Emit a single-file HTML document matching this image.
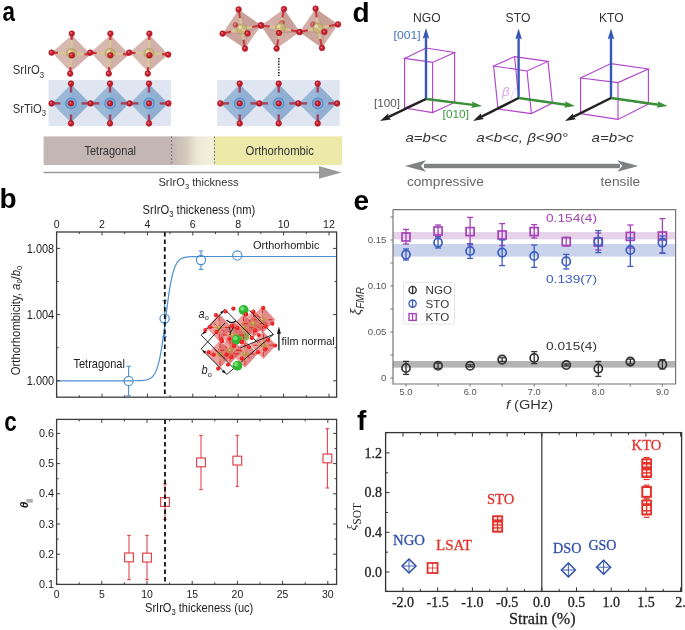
<!DOCTYPE html><html><head><meta charset="utf-8"><style>html,body{margin:0;padding:0;background:#fff;}svg{display:block;filter:blur(0.4px);}</style></head><body>
<svg width="685" height="630" viewBox="0 0 685 630">
<rect width="685" height="630" fill="#fff"/>
<text transform="translate(2.4,21) scale(0.8,1)" font-size="28" fill="#000" text-anchor="start" font-weight="bold" font-style="normal" font-family='"Liberation Sans", sans-serif'>a</text>
<polygon points="71.80000000000001,35 90.60000000000001,54.4 70.5,72 52.00000000000001,52.6" fill="#d7b9b2"/>
<polygon points="71.80000000000001,35 90.60000000000001,54.4 70.5,72" fill="#cfaca5" opacity="0.6"/>
<line x1="71.40" y1="53.40" x2="71.67" y2="39.94" stroke="#d8c890" stroke-width="2.2" />
<line x1="71.67" y1="39.94" x2="71.80" y2="33.60" stroke="#cc3440" stroke-width="2.2" />
<line x1="71.40" y1="53.40" x2="70.58" y2="67.14" stroke="#d8c890" stroke-width="2.2" />
<line x1="70.58" y1="67.14" x2="70.20" y2="73.60" stroke="#cc3440" stroke-width="2.2" />
<line x1="71.40" y1="53.40" x2="57.94" y2="52.86" stroke="#d8c890" stroke-width="2.2" />
<line x1="57.94" y1="52.86" x2="51.60" y2="52.60" stroke="#cc3440" stroke-width="2.2" />
<line x1="71.40" y1="53.40" x2="84.39" y2="54.22" stroke="#d8c890" stroke-width="2.2" />
<line x1="84.39" y1="54.22" x2="90.50" y2="54.60" stroke="#cc3440" stroke-width="2.2" />
<circle cx="71.4" cy="53.4" r="5.0" fill="#c8b478" stroke="#a89458" stroke-width="0.6"/>
<circle cx="69.9" cy="51.8" r="1.8" fill="#ece2b8" opacity="0.8"/>
<polygon points="110.4,35 129.2,54.4 109.1,72 90.6,52.6" fill="#d7b9b2"/>
<polygon points="110.4,35 129.2,54.4 109.1,72" fill="#cfaca5" opacity="0.6"/>
<line x1="110.00" y1="53.40" x2="110.27" y2="39.94" stroke="#d8c890" stroke-width="2.2" />
<line x1="110.27" y1="39.94" x2="110.40" y2="33.60" stroke="#cc3440" stroke-width="2.2" />
<line x1="110.00" y1="53.40" x2="109.18" y2="67.14" stroke="#d8c890" stroke-width="2.2" />
<line x1="109.18" y1="67.14" x2="108.80" y2="73.60" stroke="#cc3440" stroke-width="2.2" />
<line x1="110.00" y1="53.40" x2="96.54" y2="52.99" stroke="#d8c890" stroke-width="2.2" />
<line x1="96.54" y1="52.99" x2="90.20" y2="52.80" stroke="#cc3440" stroke-width="2.2" />
<line x1="110.00" y1="53.40" x2="122.99" y2="54.22" stroke="#d8c890" stroke-width="2.2" />
<line x1="122.99" y1="54.22" x2="129.10" y2="54.60" stroke="#cc3440" stroke-width="2.2" />
<circle cx="110" cy="53.4" r="5.0" fill="#c8b478" stroke="#a89458" stroke-width="0.6"/>
<circle cx="108.5" cy="51.8" r="1.8" fill="#ece2b8" opacity="0.8"/>
<polygon points="149.4,35 168.2,54.4 148.1,72 129.6,52.6" fill="#d7b9b2"/>
<polygon points="149.4,35 168.2,54.4 148.1,72" fill="#cfaca5" opacity="0.6"/>
<line x1="149.00" y1="53.40" x2="149.27" y2="39.94" stroke="#d8c890" stroke-width="2.2" />
<line x1="149.27" y1="39.94" x2="149.40" y2="33.60" stroke="#cc3440" stroke-width="2.2" />
<line x1="149.00" y1="53.40" x2="148.18" y2="67.14" stroke="#d8c890" stroke-width="2.2" />
<line x1="148.18" y1="67.14" x2="147.80" y2="73.60" stroke="#cc3440" stroke-width="2.2" />
<line x1="149.00" y1="53.40" x2="135.54" y2="52.99" stroke="#d8c890" stroke-width="2.2" />
<line x1="135.54" y1="52.99" x2="129.20" y2="52.80" stroke="#cc3440" stroke-width="2.2" />
<line x1="149.00" y1="53.40" x2="161.99" y2="54.22" stroke="#d8c890" stroke-width="2.2" />
<line x1="161.99" y1="54.22" x2="168.10" y2="54.60" stroke="#cc3440" stroke-width="2.2" />
<circle cx="149" cy="53.4" r="5.0" fill="#c8b478" stroke="#a89458" stroke-width="0.6"/>
<circle cx="147.5" cy="51.8" r="1.8" fill="#ece2b8" opacity="0.8"/>
<circle cx="71.8" cy="33.6" r="2.8" fill="#c81e2c" stroke="#9e1420" stroke-width="0.6"/>
<circle cx="71.2" cy="33.0" r="0.98" fill="#e88a90" opacity="0.8"/>
<circle cx="70.2" cy="73.6" r="2.8" fill="#c81e2c" stroke="#9e1420" stroke-width="0.6"/>
<circle cx="69.6" cy="73.0" r="0.98" fill="#e88a90" opacity="0.8"/>
<circle cx="51.6" cy="52.6" r="2.8" fill="#c81e2c" stroke="#9e1420" stroke-width="0.6"/>
<circle cx="51.0" cy="52.0" r="0.98" fill="#e88a90" opacity="0.8"/>
<circle cx="71.8" cy="55.2" r="2.8" fill="#c81e2c" stroke="#9e1420" stroke-width="0.6"/>
<circle cx="71.2" cy="54.6" r="0.98" fill="#e88a90" opacity="0.8"/>
<circle cx="110.4" cy="33.6" r="2.8" fill="#c81e2c" stroke="#9e1420" stroke-width="0.6"/>
<circle cx="109.8" cy="33.0" r="0.98" fill="#e88a90" opacity="0.8"/>
<circle cx="108.8" cy="73.6" r="2.8" fill="#c81e2c" stroke="#9e1420" stroke-width="0.6"/>
<circle cx="108.2" cy="73.0" r="0.98" fill="#e88a90" opacity="0.8"/>
<circle cx="90.2" cy="52.6" r="2.8" fill="#c81e2c" stroke="#9e1420" stroke-width="0.6"/>
<circle cx="89.6" cy="52.0" r="0.98" fill="#e88a90" opacity="0.8"/>
<circle cx="110.4" cy="55.2" r="2.8" fill="#c81e2c" stroke="#9e1420" stroke-width="0.6"/>
<circle cx="109.8" cy="54.6" r="0.98" fill="#e88a90" opacity="0.8"/>
<circle cx="149.4" cy="33.6" r="2.8" fill="#c81e2c" stroke="#9e1420" stroke-width="0.6"/>
<circle cx="148.8" cy="33.0" r="0.98" fill="#e88a90" opacity="0.8"/>
<circle cx="147.8" cy="73.6" r="2.8" fill="#c81e2c" stroke="#9e1420" stroke-width="0.6"/>
<circle cx="147.2" cy="73.0" r="0.98" fill="#e88a90" opacity="0.8"/>
<circle cx="129.2" cy="52.6" r="2.8" fill="#c81e2c" stroke="#9e1420" stroke-width="0.6"/>
<circle cx="128.6" cy="52.0" r="0.98" fill="#e88a90" opacity="0.8"/>
<circle cx="149.4" cy="55.2" r="2.8" fill="#c81e2c" stroke="#9e1420" stroke-width="0.6"/>
<circle cx="148.8" cy="54.6" r="0.98" fill="#e88a90" opacity="0.8"/>
<circle cx="168.2" cy="54.6" r="2.8" fill="#c81e2c" stroke="#9e1420" stroke-width="0.6"/>
<circle cx="167.6" cy="54.0" r="0.98" fill="#e88a90" opacity="0.8"/>
<rect x="48.5" y="80" width="122.5" height="46" fill="#e0e6f1"/>
<polygon points="71,84.3 90,103.4 71,122.4 52,103.4" fill="#9cb8d7" />
<polygon points="71,84.3 90,103.4 71,122.4" fill="#90afd2" />
<line x1="71.00" y1="103.40" x2="71.00" y2="92.51" stroke="#8cb6da" stroke-width="2.4" />
<line x1="71.00" y1="92.51" x2="71.00" y2="83.60" stroke="#a8405c" stroke-width="2.4" />
<line x1="71.00" y1="103.40" x2="71.00" y2="114.40" stroke="#8cb6da" stroke-width="2.4" />
<line x1="71.00" y1="114.40" x2="71.00" y2="123.40" stroke="#a8405c" stroke-width="2.4" />
<line x1="71.00" y1="103.40" x2="60.33" y2="103.40" stroke="#8cb6da" stroke-width="2.4" />
<line x1="60.33" y1="103.40" x2="51.60" y2="103.40" stroke="#a8405c" stroke-width="2.4" />
<line x1="71.00" y1="103.40" x2="81.67" y2="103.40" stroke="#8cb6da" stroke-width="2.4" />
<line x1="81.67" y1="103.40" x2="90.40" y2="103.40" stroke="#a8405c" stroke-width="2.4" />
<circle cx="71" cy="103.4" r="5.2" fill="#80b0df" stroke="#5b8cc2" stroke-width="1.2"/>
<polygon points="110,84.3 129,103.4 110,122.4 91,103.4" fill="#9cb8d7" />
<polygon points="110,84.3 129,103.4 110,122.4" fill="#90afd2" />
<line x1="110.00" y1="103.40" x2="110.00" y2="92.51" stroke="#8cb6da" stroke-width="2.4" />
<line x1="110.00" y1="92.51" x2="110.00" y2="83.60" stroke="#a8405c" stroke-width="2.4" />
<line x1="110.00" y1="103.40" x2="110.00" y2="114.40" stroke="#8cb6da" stroke-width="2.4" />
<line x1="110.00" y1="114.40" x2="110.00" y2="123.40" stroke="#a8405c" stroke-width="2.4" />
<line x1="110.00" y1="103.40" x2="99.33" y2="103.40" stroke="#8cb6da" stroke-width="2.4" />
<line x1="99.33" y1="103.40" x2="90.60" y2="103.40" stroke="#a8405c" stroke-width="2.4" />
<line x1="110.00" y1="103.40" x2="120.67" y2="103.40" stroke="#8cb6da" stroke-width="2.4" />
<line x1="120.67" y1="103.40" x2="129.40" y2="103.40" stroke="#a8405c" stroke-width="2.4" />
<circle cx="110" cy="103.4" r="5.2" fill="#80b0df" stroke="#5b8cc2" stroke-width="1.2"/>
<polygon points="149,84.3 168,103.4 149,122.4 130,103.4" fill="#9cb8d7" />
<polygon points="149,84.3 168,103.4 149,122.4" fill="#90afd2" />
<line x1="149.00" y1="103.40" x2="149.00" y2="92.51" stroke="#8cb6da" stroke-width="2.4" />
<line x1="149.00" y1="92.51" x2="149.00" y2="83.60" stroke="#a8405c" stroke-width="2.4" />
<line x1="149.00" y1="103.40" x2="149.00" y2="114.40" stroke="#8cb6da" stroke-width="2.4" />
<line x1="149.00" y1="114.40" x2="149.00" y2="123.40" stroke="#a8405c" stroke-width="2.4" />
<line x1="149.00" y1="103.40" x2="138.33" y2="103.40" stroke="#8cb6da" stroke-width="2.4" />
<line x1="138.33" y1="103.40" x2="129.60" y2="103.40" stroke="#a8405c" stroke-width="2.4" />
<line x1="149.00" y1="103.40" x2="159.67" y2="103.40" stroke="#8cb6da" stroke-width="2.4" />
<line x1="159.67" y1="103.40" x2="168.40" y2="103.40" stroke="#a8405c" stroke-width="2.4" />
<circle cx="149" cy="103.4" r="5.2" fill="#80b0df" stroke="#5b8cc2" stroke-width="1.2"/>
<circle cx="71.0" cy="83.6" r="2.8" fill="#c81e2c" stroke="#9e1420" stroke-width="0.6"/>
<circle cx="70.4" cy="83.0" r="0.98" fill="#e88a90" opacity="0.8"/>
<circle cx="71.0" cy="123.4" r="2.8" fill="#c81e2c" stroke="#9e1420" stroke-width="0.6"/>
<circle cx="70.4" cy="122.8" r="0.98" fill="#e88a90" opacity="0.8"/>
<circle cx="51.6" cy="103.4" r="2.8" fill="#c81e2c" stroke="#9e1420" stroke-width="0.6"/>
<circle cx="51.0" cy="102.8" r="0.98" fill="#e88a90" opacity="0.8"/>
<circle cx="71.0" cy="103.4" r="2.8" fill="#c81e2c" stroke="#9e1420" stroke-width="0.6"/>
<circle cx="70.4" cy="102.8" r="0.98" fill="#e88a90" opacity="0.8"/>
<circle cx="110.0" cy="83.6" r="2.8" fill="#c81e2c" stroke="#9e1420" stroke-width="0.6"/>
<circle cx="109.4" cy="83.0" r="0.98" fill="#e88a90" opacity="0.8"/>
<circle cx="110.0" cy="123.4" r="2.8" fill="#c81e2c" stroke="#9e1420" stroke-width="0.6"/>
<circle cx="109.4" cy="122.8" r="0.98" fill="#e88a90" opacity="0.8"/>
<circle cx="90.6" cy="103.4" r="2.8" fill="#c81e2c" stroke="#9e1420" stroke-width="0.6"/>
<circle cx="90.0" cy="102.8" r="0.98" fill="#e88a90" opacity="0.8"/>
<circle cx="110.0" cy="103.4" r="2.8" fill="#c81e2c" stroke="#9e1420" stroke-width="0.6"/>
<circle cx="109.4" cy="102.8" r="0.98" fill="#e88a90" opacity="0.8"/>
<circle cx="149.0" cy="83.6" r="2.8" fill="#c81e2c" stroke="#9e1420" stroke-width="0.6"/>
<circle cx="148.4" cy="83.0" r="0.98" fill="#e88a90" opacity="0.8"/>
<circle cx="149.0" cy="123.4" r="2.8" fill="#c81e2c" stroke="#9e1420" stroke-width="0.6"/>
<circle cx="148.4" cy="122.8" r="0.98" fill="#e88a90" opacity="0.8"/>
<circle cx="129.6" cy="103.4" r="2.8" fill="#c81e2c" stroke="#9e1420" stroke-width="0.6"/>
<circle cx="129.0" cy="102.8" r="0.98" fill="#e88a90" opacity="0.8"/>
<circle cx="149.0" cy="103.4" r="2.8" fill="#c81e2c" stroke="#9e1420" stroke-width="0.6"/>
<circle cx="148.4" cy="102.8" r="0.98" fill="#e88a90" opacity="0.8"/>
<circle cx="168.4" cy="103.4" r="2.8" fill="#c81e2c" stroke="#9e1420" stroke-width="0.6"/>
<circle cx="167.8" cy="102.8" r="0.98" fill="#e88a90" opacity="0.8"/>
<rect x="217.2" y="80" width="122.5" height="46" fill="#e0e6f1"/>
<polygon points="239.7,84.3 258.7,103.4 239.7,122.4 220.7,103.4" fill="#9cb8d7" />
<polygon points="239.7,84.3 258.7,103.4 239.7,122.4" fill="#90afd2" />
<line x1="239.70" y1="103.40" x2="239.70" y2="92.51" stroke="#8cb6da" stroke-width="2.4" />
<line x1="239.70" y1="92.51" x2="239.70" y2="83.60" stroke="#a8405c" stroke-width="2.4" />
<line x1="239.70" y1="103.40" x2="239.70" y2="114.40" stroke="#8cb6da" stroke-width="2.4" />
<line x1="239.70" y1="114.40" x2="239.70" y2="123.40" stroke="#a8405c" stroke-width="2.4" />
<line x1="239.70" y1="103.40" x2="229.03" y2="103.40" stroke="#8cb6da" stroke-width="2.4" />
<line x1="229.03" y1="103.40" x2="220.30" y2="103.40" stroke="#a8405c" stroke-width="2.4" />
<line x1="239.70" y1="103.40" x2="250.37" y2="103.40" stroke="#8cb6da" stroke-width="2.4" />
<line x1="250.37" y1="103.40" x2="259.10" y2="103.40" stroke="#a8405c" stroke-width="2.4" />
<circle cx="239.7" cy="103.4" r="5.2" fill="#80b0df" stroke="#5b8cc2" stroke-width="1.2"/>
<polygon points="278.7,84.3 297.7,103.4 278.7,122.4 259.7,103.4" fill="#9cb8d7" />
<polygon points="278.7,84.3 297.7,103.4 278.7,122.4" fill="#90afd2" />
<line x1="278.70" y1="103.40" x2="278.70" y2="92.51" stroke="#8cb6da" stroke-width="2.4" />
<line x1="278.70" y1="92.51" x2="278.70" y2="83.60" stroke="#a8405c" stroke-width="2.4" />
<line x1="278.70" y1="103.40" x2="278.70" y2="114.40" stroke="#8cb6da" stroke-width="2.4" />
<line x1="278.70" y1="114.40" x2="278.70" y2="123.40" stroke="#a8405c" stroke-width="2.4" />
<line x1="278.70" y1="103.40" x2="268.03" y2="103.40" stroke="#8cb6da" stroke-width="2.4" />
<line x1="268.03" y1="103.40" x2="259.30" y2="103.40" stroke="#a8405c" stroke-width="2.4" />
<line x1="278.70" y1="103.40" x2="289.37" y2="103.40" stroke="#8cb6da" stroke-width="2.4" />
<line x1="289.37" y1="103.40" x2="298.10" y2="103.40" stroke="#a8405c" stroke-width="2.4" />
<circle cx="278.7" cy="103.4" r="5.2" fill="#80b0df" stroke="#5b8cc2" stroke-width="1.2"/>
<polygon points="317.7,84.3 336.7,103.4 317.7,122.4 298.7,103.4" fill="#9cb8d7" />
<polygon points="317.7,84.3 336.7,103.4 317.7,122.4" fill="#90afd2" />
<line x1="317.70" y1="103.40" x2="317.70" y2="92.51" stroke="#8cb6da" stroke-width="2.4" />
<line x1="317.70" y1="92.51" x2="317.70" y2="83.60" stroke="#a8405c" stroke-width="2.4" />
<line x1="317.70" y1="103.40" x2="317.70" y2="114.40" stroke="#8cb6da" stroke-width="2.4" />
<line x1="317.70" y1="114.40" x2="317.70" y2="123.40" stroke="#a8405c" stroke-width="2.4" />
<line x1="317.70" y1="103.40" x2="307.03" y2="103.40" stroke="#8cb6da" stroke-width="2.4" />
<line x1="307.03" y1="103.40" x2="298.30" y2="103.40" stroke="#a8405c" stroke-width="2.4" />
<line x1="317.70" y1="103.40" x2="328.37" y2="103.40" stroke="#8cb6da" stroke-width="2.4" />
<line x1="328.37" y1="103.40" x2="337.10" y2="103.40" stroke="#a8405c" stroke-width="2.4" />
<circle cx="317.7" cy="103.4" r="5.2" fill="#80b0df" stroke="#5b8cc2" stroke-width="1.2"/>
<circle cx="239.7" cy="83.6" r="2.8" fill="#c81e2c" stroke="#9e1420" stroke-width="0.6"/>
<circle cx="239.1" cy="83.0" r="0.98" fill="#e88a90" opacity="0.8"/>
<circle cx="239.7" cy="123.4" r="2.8" fill="#c81e2c" stroke="#9e1420" stroke-width="0.6"/>
<circle cx="239.1" cy="122.8" r="0.98" fill="#e88a90" opacity="0.8"/>
<circle cx="220.3" cy="103.4" r="2.8" fill="#c81e2c" stroke="#9e1420" stroke-width="0.6"/>
<circle cx="219.7" cy="102.8" r="0.98" fill="#e88a90" opacity="0.8"/>
<circle cx="239.7" cy="103.4" r="2.8" fill="#c81e2c" stroke="#9e1420" stroke-width="0.6"/>
<circle cx="239.1" cy="102.8" r="0.98" fill="#e88a90" opacity="0.8"/>
<circle cx="278.7" cy="83.6" r="2.8" fill="#c81e2c" stroke="#9e1420" stroke-width="0.6"/>
<circle cx="278.1" cy="83.0" r="0.98" fill="#e88a90" opacity="0.8"/>
<circle cx="278.7" cy="123.4" r="2.8" fill="#c81e2c" stroke="#9e1420" stroke-width="0.6"/>
<circle cx="278.1" cy="122.8" r="0.98" fill="#e88a90" opacity="0.8"/>
<circle cx="259.3" cy="103.4" r="2.8" fill="#c81e2c" stroke="#9e1420" stroke-width="0.6"/>
<circle cx="258.7" cy="102.8" r="0.98" fill="#e88a90" opacity="0.8"/>
<circle cx="278.7" cy="103.4" r="2.8" fill="#c81e2c" stroke="#9e1420" stroke-width="0.6"/>
<circle cx="278.1" cy="102.8" r="0.98" fill="#e88a90" opacity="0.8"/>
<circle cx="317.7" cy="83.6" r="2.8" fill="#c81e2c" stroke="#9e1420" stroke-width="0.6"/>
<circle cx="317.1" cy="83.0" r="0.98" fill="#e88a90" opacity="0.8"/>
<circle cx="317.7" cy="123.4" r="2.8" fill="#c81e2c" stroke="#9e1420" stroke-width="0.6"/>
<circle cx="317.1" cy="122.8" r="0.98" fill="#e88a90" opacity="0.8"/>
<circle cx="298.3" cy="103.4" r="2.8" fill="#c81e2c" stroke="#9e1420" stroke-width="0.6"/>
<circle cx="297.7" cy="102.8" r="0.98" fill="#e88a90" opacity="0.8"/>
<circle cx="317.7" cy="103.4" r="2.8" fill="#c81e2c" stroke="#9e1420" stroke-width="0.6"/>
<circle cx="317.1" cy="102.8" r="0.98" fill="#e88a90" opacity="0.8"/>
<circle cx="337.1" cy="103.4" r="2.8" fill="#c81e2c" stroke="#9e1420" stroke-width="0.6"/>
<circle cx="336.5" cy="102.8" r="0.98" fill="#e88a90" opacity="0.8"/>
<polygon points="238.6,9.4 261.0,25.4 245.0,48.6 222.6,33.6" fill="#d2aea6"/>
<polygon points="238.6,9.4 261.0,25.4 247.6,33.4" fill="#c59d95" opacity="0.8"/>
<polygon points="245.0,48.6 222.6,33.6 247.6,33.4" fill="#c8a29a" opacity="0.8"/>
<polyline points="238.6,9.4 247.6,33.4 245.0,48.6" fill="none" stroke="#b88e86" stroke-width="0.6"/>
<polyline points="222.6,33.6 247.6,33.4 261.0,25.4" fill="none" stroke="#b88e86" stroke-width="0.6"/>
<line x1="241.60" y1="29.00" x2="239.95" y2="18.22" stroke="#d8c890" stroke-width="2.0" />
<line x1="239.95" y1="18.22" x2="238.60" y2="9.40" stroke="#cc3440" stroke-width="2.0" />
<line x1="241.60" y1="29.00" x2="243.47" y2="39.78" stroke="#d8c890" stroke-width="2.0" />
<line x1="243.47" y1="39.78" x2="245.00" y2="48.60" stroke="#cc3440" stroke-width="2.0" />
<line x1="241.60" y1="29.00" x2="231.15" y2="31.53" stroke="#d8c890" stroke-width="2.0" />
<line x1="231.15" y1="31.53" x2="222.60" y2="33.60" stroke="#cc3440" stroke-width="2.0" />
<line x1="241.60" y1="29.00" x2="252.27" y2="27.02" stroke="#d8c890" stroke-width="2.0" />
<line x1="252.27" y1="27.02" x2="261.00" y2="25.40" stroke="#cc3440" stroke-width="2.0" />
<line x1="241.60" y1="29.00" x2="238.30" y2="26.80" stroke="#d8c890" stroke-width="2.0" />
<line x1="238.30" y1="26.80" x2="235.60" y2="25.00" stroke="#cc3440" stroke-width="2.0" />
<g opacity="0.55">
<circle cx="235.6" cy="25.0" r="2.6" fill="#c81e2c" stroke="#9e1420" stroke-width="0.6"/>
<circle cx="235.0" cy="24.4" r="0.91" fill="#e88a90" opacity="0.8"/>
</g>
<circle cx="241.6" cy="29" r="5.0" fill="#c8b478" stroke="#a89458" stroke-width="0.6"/>
<circle cx="240.1" cy="27.4" r="1.8" fill="#ece2b8" opacity="0.8"/>
<line x1="241.60" y1="29.00" x2="244.90" y2="31.42" stroke="#d8c890" stroke-width="2.0" />
<line x1="244.90" y1="31.42" x2="247.60" y2="33.40" stroke="#cc3440" stroke-width="2.0" />
<polygon points="284.0,9.0 299.6,32.0 276.6,48.6 261.0,25.4" fill="#d2aea6"/>
<polygon points="284.0,9.0 299.6,32.0 279.0,33.0" fill="#c59d95" opacity="0.8"/>
<polygon points="276.6,48.6 261.0,25.4 279.0,33.0" fill="#c8a29a" opacity="0.8"/>
<polyline points="284.0,9.0 279.0,33.0 276.6,48.6" fill="none" stroke="#b88e86" stroke-width="0.6"/>
<polyline points="261.0,25.4 279.0,33.0 299.6,32.0" fill="none" stroke="#b88e86" stroke-width="0.6"/>
<line x1="280.40" y1="28.00" x2="282.38" y2="17.55" stroke="#d8c890" stroke-width="2.0" />
<line x1="282.38" y1="17.55" x2="284.00" y2="9.00" stroke="#cc3440" stroke-width="2.0" />
<line x1="280.40" y1="28.00" x2="278.31" y2="39.33" stroke="#d8c890" stroke-width="2.0" />
<line x1="278.31" y1="39.33" x2="276.60" y2="48.60" stroke="#cc3440" stroke-width="2.0" />
<line x1="280.40" y1="28.00" x2="269.73" y2="26.57" stroke="#d8c890" stroke-width="2.0" />
<line x1="269.73" y1="26.57" x2="261.00" y2="25.40" stroke="#cc3440" stroke-width="2.0" />
<line x1="280.40" y1="28.00" x2="290.96" y2="30.20" stroke="#d8c890" stroke-width="2.0" />
<line x1="290.96" y1="30.20" x2="299.60" y2="32.00" stroke="#cc3440" stroke-width="2.0" />
<line x1="280.40" y1="28.00" x2="281.28" y2="25.25" stroke="#d8c890" stroke-width="2.0" />
<line x1="281.28" y1="25.25" x2="282.00" y2="23.00" stroke="#cc3440" stroke-width="2.0" />
<g opacity="0.55">
<circle cx="282.0" cy="23.0" r="2.6" fill="#c81e2c" stroke="#9e1420" stroke-width="0.6"/>
<circle cx="281.4" cy="22.4" r="0.91" fill="#e88a90" opacity="0.8"/>
</g>
<circle cx="280.4" cy="28" r="5.0" fill="#c8b478" stroke="#a89458" stroke-width="0.6"/>
<circle cx="278.9" cy="26.4" r="1.8" fill="#ece2b8" opacity="0.8"/>
<line x1="280.40" y1="28.00" x2="279.63" y2="30.75" stroke="#d8c890" stroke-width="2.0" />
<line x1="279.63" y1="30.75" x2="279.00" y2="33.00" stroke="#cc3440" stroke-width="2.0" />
<polygon points="315.6,8.6 338.0,24.4 322.0,48.0 299.6,32.0" fill="#d2aea6"/>
<polygon points="315.6,8.6 338.0,24.4 324.4,32.0" fill="#c59d95" opacity="0.8"/>
<polygon points="322.0,48.0 299.6,32.0 324.4,32.0" fill="#c8a29a" opacity="0.8"/>
<polyline points="315.6,8.6 324.4,32.0 322.0,48.0" fill="none" stroke="#b88e86" stroke-width="0.6"/>
<polyline points="299.6,32.0 324.4,32.0 338.0,24.4" fill="none" stroke="#b88e86" stroke-width="0.6"/>
<line x1="318.00" y1="28.00" x2="316.68" y2="17.33" stroke="#d8c890" stroke-width="2.0" />
<line x1="316.68" y1="17.33" x2="315.60" y2="8.60" stroke="#cc3440" stroke-width="2.0" />
<line x1="318.00" y1="28.00" x2="320.20" y2="39.00" stroke="#d8c890" stroke-width="2.0" />
<line x1="320.20" y1="39.00" x2="322.00" y2="48.00" stroke="#cc3440" stroke-width="2.0" />
<line x1="318.00" y1="28.00" x2="307.88" y2="30.20" stroke="#d8c890" stroke-width="2.0" />
<line x1="307.88" y1="30.20" x2="299.60" y2="32.00" stroke="#cc3440" stroke-width="2.0" />
<line x1="318.00" y1="28.00" x2="329.00" y2="26.02" stroke="#d8c890" stroke-width="2.0" />
<line x1="329.00" y1="26.02" x2="338.00" y2="24.40" stroke="#cc3440" stroke-width="2.0" />
<line x1="318.00" y1="28.00" x2="315.25" y2="26.02" stroke="#d8c890" stroke-width="2.0" />
<line x1="315.25" y1="26.02" x2="313.00" y2="24.40" stroke="#cc3440" stroke-width="2.0" />
<g opacity="0.55">
<circle cx="313.0" cy="24.4" r="2.6" fill="#c81e2c" stroke="#9e1420" stroke-width="0.6"/>
<circle cx="312.4" cy="23.8" r="0.91" fill="#e88a90" opacity="0.8"/>
</g>
<circle cx="318" cy="28" r="5.0" fill="#c8b478" stroke="#a89458" stroke-width="0.6"/>
<circle cx="316.5" cy="26.4" r="1.8" fill="#ece2b8" opacity="0.8"/>
<line x1="318.00" y1="28.00" x2="321.52" y2="30.20" stroke="#d8c890" stroke-width="2.0" />
<line x1="321.52" y1="30.20" x2="324.40" y2="32.00" stroke="#cc3440" stroke-width="2.0" />
<circle cx="238.6" cy="9.4" r="2.8" fill="#c81e2c" stroke="#9e1420" stroke-width="0.6"/>
<circle cx="238.0" cy="8.8" r="0.98" fill="#e88a90" opacity="0.8"/>
<circle cx="245.0" cy="48.6" r="2.8" fill="#c81e2c" stroke="#9e1420" stroke-width="0.6"/>
<circle cx="244.4" cy="48.0" r="0.98" fill="#e88a90" opacity="0.8"/>
<circle cx="222.6" cy="33.6" r="2.8" fill="#c81e2c" stroke="#9e1420" stroke-width="0.6"/>
<circle cx="222.0" cy="33.0" r="0.98" fill="#e88a90" opacity="0.8"/>
<circle cx="261.0" cy="25.4" r="2.8" fill="#c81e2c" stroke="#9e1420" stroke-width="0.6"/>
<circle cx="260.4" cy="24.8" r="0.98" fill="#e88a90" opacity="0.8"/>
<circle cx="247.6" cy="33.4" r="2.8" fill="#c81e2c" stroke="#9e1420" stroke-width="0.6"/>
<circle cx="247.0" cy="32.8" r="0.98" fill="#e88a90" opacity="0.8"/>
<circle cx="284.0" cy="9.0" r="2.8" fill="#c81e2c" stroke="#9e1420" stroke-width="0.6"/>
<circle cx="283.4" cy="8.4" r="0.98" fill="#e88a90" opacity="0.8"/>
<circle cx="276.6" cy="48.6" r="2.8" fill="#c81e2c" stroke="#9e1420" stroke-width="0.6"/>
<circle cx="276.0" cy="48.0" r="0.98" fill="#e88a90" opacity="0.8"/>
<circle cx="261.0" cy="25.4" r="2.8" fill="#c81e2c" stroke="#9e1420" stroke-width="0.6"/>
<circle cx="260.4" cy="24.8" r="0.98" fill="#e88a90" opacity="0.8"/>
<circle cx="299.6" cy="32.0" r="2.8" fill="#c81e2c" stroke="#9e1420" stroke-width="0.6"/>
<circle cx="299.0" cy="31.4" r="0.98" fill="#e88a90" opacity="0.8"/>
<circle cx="279.0" cy="33.0" r="2.8" fill="#c81e2c" stroke="#9e1420" stroke-width="0.6"/>
<circle cx="278.4" cy="32.4" r="0.98" fill="#e88a90" opacity="0.8"/>
<circle cx="315.6" cy="8.6" r="2.8" fill="#c81e2c" stroke="#9e1420" stroke-width="0.6"/>
<circle cx="315.0" cy="8.0" r="0.98" fill="#e88a90" opacity="0.8"/>
<circle cx="322.0" cy="48.0" r="2.8" fill="#c81e2c" stroke="#9e1420" stroke-width="0.6"/>
<circle cx="321.4" cy="47.4" r="0.98" fill="#e88a90" opacity="0.8"/>
<circle cx="299.6" cy="32.0" r="2.8" fill="#c81e2c" stroke="#9e1420" stroke-width="0.6"/>
<circle cx="299.0" cy="31.4" r="0.98" fill="#e88a90" opacity="0.8"/>
<circle cx="338.0" cy="24.4" r="2.8" fill="#c81e2c" stroke="#9e1420" stroke-width="0.6"/>
<circle cx="337.4" cy="23.8" r="0.98" fill="#e88a90" opacity="0.8"/>
<circle cx="324.4" cy="32.0" r="2.8" fill="#c81e2c" stroke="#9e1420" stroke-width="0.6"/>
<circle cx="323.8" cy="31.4" r="0.98" fill="#e88a90" opacity="0.8"/>
<line x1="278.80" y1="58.00" x2="278.80" y2="76.00" stroke="#222" stroke-width="1.6" stroke-dasharray="1.4 1.4"/>
<text transform="translate(12.8,73.9) scale(0.91,1)" font-size="12.4" fill="#333" text-anchor="start" font-weight="normal" font-style="normal" font-family='"Liberation Sans", sans-serif'>SrIrO<tspan font-size="8.5" dy="3.6">3</tspan></text>
<text transform="translate(12.8,112.7) scale(0.91,1)" font-size="12.4" fill="#333" text-anchor="start" font-weight="normal" font-style="normal" font-family='"Liberation Sans", sans-serif'>SrTiO<tspan font-size="8.5" dy="3.6">3</tspan></text>
<defs><linearGradient id="gbar" x1="171.6" x2="214.4" y1="0" y2="0" gradientUnits="userSpaceOnUse"><stop offset="0" stop-color="#c4b6b3"/><stop offset="0.35" stop-color="#d6cbbd"/><stop offset="0.6" stop-color="#ece8d6"/><stop offset="1" stop-color="#f4f2dc"/></linearGradient></defs>
<rect x="43.6" y="136.4" width="128" height="28.6" fill="#c4b6b3"/>
<rect x="171.6" y="136.4" width="42.8" height="28.6" fill="url(#gbar)"/>
<rect x="214.4" y="136.4" width="127.6" height="28.6" fill="#ede9a9"/>
<line x1="171.60" y1="136.40" x2="171.60" y2="165.00" stroke="#555" stroke-width="0.8" stroke-dasharray="2 1.6"/>
<line x1="214.40" y1="136.40" x2="214.40" y2="165.00" stroke="#555" stroke-width="0.8" stroke-dasharray="2 1.6"/>
<text x="84.4" y="155" font-size="12.6" fill="#333" text-anchor="start" font-weight="normal" font-style="normal" font-family='"Liberation Sans", sans-serif' textLength="51.6" lengthAdjust="spacingAndGlyphs" >Tetragonal</text>
<text x="245.6" y="155" font-size="12.6" fill="#333" text-anchor="start" font-weight="normal" font-style="normal" font-family='"Liberation Sans", sans-serif' textLength="68.4" lengthAdjust="spacingAndGlyphs" >Orthorhombic</text>
<line x1="43.60" y1="172.40" x2="322.00" y2="172.40" stroke="#9a9a9a" stroke-width="1.5" />
<polygon points="319,166 341.5,172.4 319,178.8" fill="#9a9a9a"/>
<text transform="translate(158.4,186) scale(0.95,1)" font-size="11.7" fill="#333" text-anchor="start" font-weight="normal" font-style="normal" font-family='"Liberation Sans", sans-serif'>SrIrO<tspan font-size="8" dy="3">3</tspan><tspan dy="-3"> thickness</tspan></text>
<text x="-0.5" y="208" font-size="28" fill="#000" text-anchor="start" font-weight="bold" font-style="normal" font-family='"Liberation Sans", sans-serif' >b</text>
<line x1="128.60" y1="366.30" x2="128.60" y2="395.70" stroke="#4b8fd0" stroke-width="1.1" />
<line x1="126.40" y1="366.30" x2="130.80" y2="366.30" stroke="#4b8fd0" stroke-width="1.1" />
<line x1="126.40" y1="395.70" x2="130.80" y2="395.70" stroke="#4b8fd0" stroke-width="1.1" />
<circle cx="128.6" cy="380.9" r="4.6" fill="#fff" stroke="#4b8fd0" stroke-width="1.2"/>
<line x1="164.60" y1="300.70" x2="164.60" y2="336.40" stroke="#4b8fd0" stroke-width="1.1" />
<line x1="162.40" y1="300.70" x2="166.80" y2="300.70" stroke="#4b8fd0" stroke-width="1.1" />
<line x1="162.40" y1="336.40" x2="166.80" y2="336.40" stroke="#4b8fd0" stroke-width="1.1" />
<circle cx="164.6" cy="318.6" r="4.6" fill="#fff" stroke="#4b8fd0" stroke-width="1.2"/>
<line x1="201.00" y1="251.00" x2="201.00" y2="269.40" stroke="#4b8fd0" stroke-width="1.1" />
<line x1="198.80" y1="251.00" x2="203.20" y2="251.00" stroke="#4b8fd0" stroke-width="1.1" />
<line x1="198.80" y1="269.40" x2="203.20" y2="269.40" stroke="#4b8fd0" stroke-width="1.1" />
<circle cx="201" cy="260" r="4.6" fill="#fff" stroke="#4b8fd0" stroke-width="1.2"/>
<circle cx="237.3" cy="255.4" r="4.6" fill="#fff" stroke="#4b8fd0" stroke-width="1.2"/>
<polyline points="56.6,380.80 57.1,380.80 57.6,380.80 58.1,380.80 58.6,380.80 59.1,380.80 59.6,380.80 60.1,380.80 60.6,380.80 61.1,380.80 61.6,380.80 62.1,380.80 62.6,380.80 63.1,380.80 63.6,380.80 64.1,380.80 64.6,380.80 65.1,380.80 65.6,380.80 66.1,380.80 66.6,380.80 67.1,380.80 67.6,380.80 68.1,380.80 68.6,380.80 69.1,380.80 69.6,380.80 70.1,380.80 70.6,380.80 71.1,380.80 71.6,380.80 72.1,380.80 72.6,380.80 73.1,380.80 73.6,380.80 74.1,380.80 74.6,380.80 75.1,380.80 75.6,380.80 76.1,380.80 76.6,380.80 77.1,380.80 77.6,380.80 78.1,380.80 78.6,380.80 79.1,380.80 79.6,380.80 80.1,380.80 80.6,380.80 81.1,380.80 81.6,380.80 82.1,380.80 82.6,380.80 83.1,380.80 83.6,380.80 84.1,380.80 84.6,380.80 85.1,380.80 85.6,380.80 86.1,380.80 86.6,380.80 87.1,380.80 87.6,380.80 88.1,380.80 88.6,380.80 89.1,380.80 89.6,380.80 90.1,380.80 90.6,380.80 91.1,380.80 91.6,380.80 92.1,380.80 92.6,380.80 93.1,380.80 93.6,380.80 94.1,380.80 94.6,380.80 95.1,380.80 95.6,380.80 96.1,380.80 96.6,380.80 97.1,380.80 97.6,380.80 98.1,380.80 98.6,380.80 99.1,380.80 99.6,380.80 100.1,380.80 100.6,380.80 101.1,380.80 101.6,380.80 102.1,380.80 102.6,380.80 103.1,380.80 103.6,380.80 104.1,380.80 104.6,380.80 105.1,380.80 105.6,380.80 106.1,380.80 106.6,380.80 107.1,380.80 107.6,380.80 108.1,380.80 108.6,380.80 109.1,380.80 109.6,380.80 110.1,380.80 110.6,380.80 111.1,380.80 111.6,380.80 112.1,380.80 112.6,380.80 113.1,380.80 113.6,380.80 114.1,380.80 114.6,380.80 115.1,380.80 115.6,380.80 116.1,380.80 116.6,380.80 117.1,380.80 117.6,380.80 118.1,380.80 118.6,380.80 119.1,380.80 119.6,380.80 120.1,380.80 120.6,380.80 121.1,380.80 121.6,380.80 122.1,380.80 122.6,380.80 123.1,380.80 123.6,380.80 124.1,380.80 124.6,380.80 125.1,380.80 125.6,380.80 126.1,380.80 126.6,380.79 127.1,380.79 127.6,380.79 128.1,380.79 128.6,380.79 129.1,380.79 129.6,380.79 130.1,380.79 130.6,380.78 131.1,380.78 131.6,380.78 132.1,380.78 132.6,380.77 133.1,380.77 133.6,380.77 134.1,380.76 134.6,380.76 135.1,380.75 135.6,380.74 136.1,380.74 136.6,380.73 137.1,380.72 137.6,380.71 138.1,380.69 138.6,380.68 139.1,380.66 139.6,380.64 140.1,380.62 140.6,380.60 141.1,380.57 141.6,380.54 142.1,380.50 142.6,380.46 143.1,380.41 143.6,380.36 144.1,380.30 144.6,380.23 145.1,380.16 145.6,380.07 146.1,379.97 146.6,379.86 147.1,379.73 147.6,379.58 148.1,379.42 148.6,379.23 149.1,379.02 149.6,378.78 150.1,378.51 150.6,378.20 151.1,377.85 151.6,377.46 152.1,377.02 152.6,376.52 153.1,375.96 153.6,375.32 154.1,374.61 154.6,373.81 155.1,372.92 155.6,371.91 156.1,370.80 156.6,369.55 157.1,368.17 157.6,366.64 158.1,364.95 158.6,363.09 159.1,361.05 159.6,358.83 160.1,356.41 160.6,353.80 161.1,350.99 161.6,347.99 162.1,344.81 162.6,341.44 163.1,337.91 163.6,334.25 164.1,330.46 164.6,326.57 165.1,322.63 165.6,318.65 166.1,314.67 166.6,310.73 167.1,306.84 167.6,303.05 168.1,299.39 168.6,295.86 169.1,292.49 169.6,289.31 170.1,286.31 170.6,283.50 171.1,280.89 171.6,278.47 172.1,276.25 172.6,274.21 173.1,272.35 173.6,270.66 174.1,269.13 174.6,267.75 175.1,266.50 175.6,265.39 176.1,264.38 176.6,263.49 177.1,262.69 177.6,261.98 178.1,261.34 178.6,260.78 179.1,260.28 179.6,259.84 180.1,259.45 180.6,259.10 181.1,258.79 181.6,258.52 182.1,258.28 182.6,258.07 183.1,257.88 183.6,257.72 184.1,257.57 184.6,257.44 185.1,257.33 185.6,257.23 186.1,257.14 186.6,257.07 187.1,257.00 187.6,256.94 188.1,256.89 188.6,256.84 189.1,256.80 189.6,256.76 190.1,256.73 190.6,256.70 191.1,256.68 191.6,256.66 192.1,256.64 192.6,256.62 193.1,256.61 193.6,256.59 194.1,256.58 194.6,256.57 195.1,256.56 195.6,256.56 196.1,256.55 196.6,256.54 197.1,256.54 197.6,256.53 198.1,256.53 198.6,256.53 199.1,256.52 199.6,256.52 200.1,256.52 200.6,256.52 201.1,256.51 201.6,256.51 202.1,256.51 202.6,256.51 203.1,256.51 203.6,256.51 204.1,256.51 204.6,256.51 205.1,256.50 205.6,256.50 206.1,256.50 206.6,256.50 207.1,256.50 207.6,256.50 208.1,256.50 208.6,256.50 209.1,256.50 209.6,256.50 210.1,256.50 210.6,256.50 211.1,256.50 211.6,256.50 212.1,256.50 212.6,256.50 213.1,256.50 213.6,256.50 214.1,256.50 214.6,256.50 215.1,256.50 215.6,256.50 216.1,256.50 216.6,256.50 217.1,256.50 217.6,256.50 218.1,256.50 218.6,256.50 219.1,256.50 219.6,256.50 220.1,256.50 220.6,256.50 221.1,256.50 221.6,256.50 222.1,256.50 222.6,256.50 223.1,256.50 223.6,256.50 224.1,256.50 224.6,256.50 225.1,256.50 225.6,256.50 226.1,256.50 226.6,256.50 227.1,256.50 227.6,256.50 228.1,256.50 228.6,256.50 229.1,256.50 229.6,256.50 230.1,256.50 230.6,256.50 231.1,256.50 231.6,256.50 232.1,256.50 232.6,256.50 233.1,256.50 233.6,256.50 234.1,256.50 234.6,256.50 235.1,256.50 235.6,256.50 236.1,256.50 236.6,256.50 237.1,256.50 237.6,256.50 238.1,256.50 238.6,256.50 239.1,256.50 239.6,256.50 240.1,256.50 240.6,256.50 241.1,256.50 241.6,256.50 242.1,256.50 242.6,256.50 243.1,256.50 243.6,256.50 244.1,256.50 244.6,256.50 245.1,256.50 245.6,256.50 246.1,256.50 246.6,256.50 247.1,256.50 247.6,256.50 248.1,256.50 248.6,256.50 249.1,256.50 249.6,256.50 250.1,256.50 250.6,256.50 251.1,256.50 251.6,256.50 252.1,256.50 252.6,256.50 253.1,256.50 253.6,256.50 254.1,256.50 254.6,256.50 255.1,256.50 255.6,256.50 256.1,256.50 256.6,256.50 257.1,256.50 257.6,256.50 258.1,256.50 258.6,256.50 259.1,256.50 259.6,256.50 260.1,256.50 260.6,256.50 261.1,256.50 261.6,256.50 262.1,256.50 262.6,256.50 263.1,256.50 263.6,256.50 264.1,256.50 264.6,256.50 265.1,256.50 265.6,256.50 266.1,256.50 266.6,256.50 267.1,256.50 267.6,256.50 268.1,256.50 268.6,256.50 269.1,256.50 269.6,256.50 270.1,256.50 270.6,256.50 271.1,256.50 271.6,256.50 272.1,256.50 272.6,256.50 273.1,256.50 273.6,256.50 274.1,256.50 274.6,256.50 275.1,256.50 275.6,256.50 276.1,256.50 276.6,256.50 277.1,256.50 277.6,256.50 278.1,256.50 278.6,256.50 279.1,256.50 279.6,256.50 280.1,256.50 280.6,256.50 281.1,256.50 281.6,256.50 282.1,256.50 282.6,256.50 283.1,256.50 283.6,256.50 284.1,256.50 284.6,256.50 285.1,256.50 285.6,256.50 286.1,256.50 286.6,256.50 287.1,256.50 287.6,256.50 288.1,256.50 288.6,256.50 289.1,256.50 289.6,256.50 290.1,256.50 290.6,256.50 291.1,256.50 291.6,256.50 292.1,256.50 292.6,256.50 293.1,256.50 293.6,256.50 294.1,256.50 294.6,256.50 295.1,256.50 295.6,256.50 296.1,256.50 296.6,256.50 297.1,256.50 297.6,256.50 298.1,256.50 298.6,256.50 299.1,256.50 299.6,256.50 300.1,256.50 300.6,256.50 301.1,256.50 301.6,256.50 302.1,256.50 302.6,256.50 303.1,256.50 303.6,256.50 304.1,256.50 304.6,256.50 305.1,256.50 305.6,256.50 306.1,256.50 306.6,256.50 307.1,256.50 307.6,256.50 308.1,256.50 308.6,256.50 309.1,256.50 309.6,256.50 310.1,256.50 310.6,256.50 311.1,256.50 311.6,256.50 312.1,256.50 312.6,256.50 313.1,256.50 313.6,256.50 314.1,256.50 314.6,256.50 315.1,256.50 315.6,256.50 316.1,256.50 316.6,256.50 317.1,256.50 317.6,256.50 318.1,256.50 318.6,256.50 319.1,256.50 319.6,256.50 320.1,256.50 320.6,256.50 321.1,256.50 321.6,256.50 322.1,256.50 322.6,256.50 323.1,256.50 323.6,256.50 324.1,256.50 324.6,256.50 325.1,256.50 325.6,256.50 326.1,256.50 326.6,256.50 327.1,256.50 327.6,256.50 328.1,256.50 328.6,256.50 329.1,256.50 329.6,256.50 330.1,256.50 330.6,256.50 331.1,256.50 331.6,256.50 332.1,256.50 332.6,256.50 333.1,256.50 333.6,256.50 334.1,256.50 334.6,256.50 335.1,256.50 335.6,256.50 336.1,256.50 336.6,256.50" fill="none" stroke="#4b8fd0" stroke-width="1.2"/>
<line x1="164.80" y1="232.00" x2="164.80" y2="397.20" stroke="#111" stroke-width="1.8" stroke-dasharray="4.6 2.9"/>
<rect x="56.6" y="232" width="280.0" height="165.2" fill="none" stroke="#3c3c3c" stroke-width="1.3"/>
<line x1="56.60" y1="232.00" x2="56.60" y2="235.50" stroke="#3c3c3c" stroke-width="1" />
<line x1="56.60" y1="397.20" x2="56.60" y2="393.70" stroke="#3c3c3c" stroke-width="1" />
<text transform="translate(56.6,228) scale(0.95,1)" font-size="11.2" fill="#222" text-anchor="middle" font-weight="normal" font-style="normal" font-family='"Liberation Sans", sans-serif'>0</text>
<line x1="79.30" y1="232.00" x2="79.30" y2="234.00" stroke="#3c3c3c" stroke-width="1" />
<line x1="79.30" y1="397.20" x2="79.30" y2="395.20" stroke="#3c3c3c" stroke-width="1" />
<line x1="102.00" y1="232.00" x2="102.00" y2="235.50" stroke="#3c3c3c" stroke-width="1" />
<line x1="102.00" y1="397.20" x2="102.00" y2="393.70" stroke="#3c3c3c" stroke-width="1" />
<text transform="translate(102.0,228) scale(0.95,1)" font-size="11.2" fill="#222" text-anchor="middle" font-weight="normal" font-style="normal" font-family='"Liberation Sans", sans-serif'>2</text>
<line x1="124.70" y1="232.00" x2="124.70" y2="234.00" stroke="#3c3c3c" stroke-width="1" />
<line x1="124.70" y1="397.20" x2="124.70" y2="395.20" stroke="#3c3c3c" stroke-width="1" />
<line x1="147.40" y1="232.00" x2="147.40" y2="235.50" stroke="#3c3c3c" stroke-width="1" />
<line x1="147.40" y1="397.20" x2="147.40" y2="393.70" stroke="#3c3c3c" stroke-width="1" />
<text transform="translate(147.4,228) scale(0.95,1)" font-size="11.2" fill="#222" text-anchor="middle" font-weight="normal" font-style="normal" font-family='"Liberation Sans", sans-serif'>4</text>
<line x1="170.10" y1="232.00" x2="170.10" y2="234.00" stroke="#3c3c3c" stroke-width="1" />
<line x1="170.10" y1="397.20" x2="170.10" y2="395.20" stroke="#3c3c3c" stroke-width="1" />
<line x1="192.80" y1="232.00" x2="192.80" y2="235.50" stroke="#3c3c3c" stroke-width="1" />
<line x1="192.80" y1="397.20" x2="192.80" y2="393.70" stroke="#3c3c3c" stroke-width="1" />
<text transform="translate(192.79999999999998,228) scale(0.95,1)" font-size="11.2" fill="#222" text-anchor="middle" font-weight="normal" font-style="normal" font-family='"Liberation Sans", sans-serif'>6</text>
<line x1="215.50" y1="232.00" x2="215.50" y2="234.00" stroke="#3c3c3c" stroke-width="1" />
<line x1="215.50" y1="397.20" x2="215.50" y2="395.20" stroke="#3c3c3c" stroke-width="1" />
<line x1="238.20" y1="232.00" x2="238.20" y2="235.50" stroke="#3c3c3c" stroke-width="1" />
<line x1="238.20" y1="397.20" x2="238.20" y2="393.70" stroke="#3c3c3c" stroke-width="1" />
<text transform="translate(238.2,228) scale(0.95,1)" font-size="11.2" fill="#222" text-anchor="middle" font-weight="normal" font-style="normal" font-family='"Liberation Sans", sans-serif'>8</text>
<line x1="260.90" y1="232.00" x2="260.90" y2="234.00" stroke="#3c3c3c" stroke-width="1" />
<line x1="260.90" y1="397.20" x2="260.90" y2="395.20" stroke="#3c3c3c" stroke-width="1" />
<line x1="283.60" y1="232.00" x2="283.60" y2="235.50" stroke="#3c3c3c" stroke-width="1" />
<line x1="283.60" y1="397.20" x2="283.60" y2="393.70" stroke="#3c3c3c" stroke-width="1" />
<text transform="translate(283.6,228) scale(0.95,1)" font-size="11.2" fill="#222" text-anchor="middle" font-weight="normal" font-style="normal" font-family='"Liberation Sans", sans-serif'>10</text>
<line x1="306.30" y1="232.00" x2="306.30" y2="234.00" stroke="#3c3c3c" stroke-width="1" />
<line x1="306.30" y1="397.20" x2="306.30" y2="395.20" stroke="#3c3c3c" stroke-width="1" />
<line x1="329.00" y1="232.00" x2="329.00" y2="235.50" stroke="#3c3c3c" stroke-width="1" />
<line x1="329.00" y1="397.20" x2="329.00" y2="393.70" stroke="#3c3c3c" stroke-width="1" />
<text transform="translate(329.0,228) scale(0.95,1)" font-size="11.2" fill="#222" text-anchor="middle" font-weight="normal" font-style="normal" font-family='"Liberation Sans", sans-serif'>12</text>
<line x1="56.60" y1="380.80" x2="60.10" y2="380.80" stroke="#3c3c3c" stroke-width="1" />
<line x1="336.60" y1="380.80" x2="333.10" y2="380.80" stroke="#3c3c3c" stroke-width="1" />
<text transform="translate(54.2,385.1) scale(0.9,1)" font-size="12.2" fill="#222" text-anchor="end" font-weight="normal" font-style="normal" font-family='"Liberation Sans", sans-serif'>1.000</text>
<line x1="56.60" y1="347.70" x2="58.60" y2="347.70" stroke="#3c3c3c" stroke-width="1" />
<line x1="336.60" y1="347.70" x2="334.60" y2="347.70" stroke="#3c3c3c" stroke-width="1" />
<line x1="56.60" y1="314.60" x2="60.10" y2="314.60" stroke="#3c3c3c" stroke-width="1" />
<line x1="336.60" y1="314.60" x2="333.10" y2="314.60" stroke="#3c3c3c" stroke-width="1" />
<text transform="translate(54.2,318.9) scale(0.9,1)" font-size="12.2" fill="#222" text-anchor="end" font-weight="normal" font-style="normal" font-family='"Liberation Sans", sans-serif'>1.004</text>
<line x1="56.60" y1="281.50" x2="58.60" y2="281.50" stroke="#3c3c3c" stroke-width="1" />
<line x1="336.60" y1="281.50" x2="334.60" y2="281.50" stroke="#3c3c3c" stroke-width="1" />
<line x1="56.60" y1="248.40" x2="60.10" y2="248.40" stroke="#3c3c3c" stroke-width="1" />
<line x1="336.60" y1="248.40" x2="333.10" y2="248.40" stroke="#3c3c3c" stroke-width="1" />
<text transform="translate(54.2,252.6999999999999) scale(0.9,1)" font-size="12.2" fill="#222" text-anchor="end" font-weight="normal" font-style="normal" font-family='"Liberation Sans", sans-serif'>1.008</text>
<text transform="translate(142.6,214) scale(0.923,1)" font-size="12.1" fill="#222" text-anchor="start" font-weight="normal" font-style="normal" font-family='"Liberation Sans", sans-serif'>SrIrO<tspan font-size="8.2" dy="3.2">3</tspan><tspan dy="-3.2"> thickeness (nm)</tspan></text>
<text transform="translate(19.5,375.3) rotate(-90) scale(0.9,1)" font-size="12.6" fill="#222" text-anchor="start" font-weight="normal" font-style="normal" font-family='"Liberation Sans", sans-serif'>Orthorhombicity, <tspan font-style="italic">a</tspan><tspan font-size="8.4" dy="2.6">o</tspan><tspan dy="-2.6">/</tspan><tspan font-style="italic">b</tspan><tspan font-size="8.4" dy="2.6">o</tspan></text>
<text transform="translate(73.5,368.2) scale(0.925,1)" font-size="11.9" fill="#222" text-anchor="start" font-weight="normal" font-style="normal" font-family='"Liberation Sans", sans-serif'>Tetragonal</text>
<text transform="translate(253,248.6) scale(0.93,1)" font-size="11.8" fill="#222" text-anchor="start" font-weight="normal" font-style="normal" font-family='"Liberation Sans", sans-serif'>Orthorhombic</text>
<polygon points="219.2,314.0 231.7,327.5 219.2,341.0 206.7,327.5" fill="#e06262" fill-opacity="0.6" stroke="#c84848" stroke-opacity="0.5" stroke-width="0.5"/>
<polygon points="219.2,314.0 231.7,327.5 219.2,341.0" fill="#c03c3c" fill-opacity="0.22"/>
<polygon points="243.5,314.3 256.0,327.8 243.5,341.3 231.0,327.8" fill="#e06262" fill-opacity="0.6" stroke="#c84848" stroke-opacity="0.5" stroke-width="0.5"/>
<polygon points="243.5,314.3 256.0,327.8 243.5,341.3" fill="#c03c3c" fill-opacity="0.22"/>
<polygon points="262.4,306.2 274.9,319.7 262.4,333.2 249.89999999999998,319.7" fill="#e06262" fill-opacity="0.6" stroke="#c84848" stroke-opacity="0.5" stroke-width="0.5"/>
<polygon points="262.4,306.2 274.9,319.7 262.4,333.2" fill="#c03c3c" fill-opacity="0.22"/>
<polygon points="253.7,310.2 266.2,323.7 253.7,337.2 241.2,323.7" fill="#e06262" fill-opacity="0.6" stroke="#c84848" stroke-opacity="0.5" stroke-width="0.5"/>
<polygon points="253.7,310.2 266.2,323.7 253.7,337.2" fill="#c03c3c" fill-opacity="0.22"/>
<polygon points="220,340.8 232.5,354.3 220,367.8 207.5,354.3" fill="#e06262" fill-opacity="0.6" stroke="#c84848" stroke-opacity="0.5" stroke-width="0.5"/>
<polygon points="220,340.8 232.5,354.3 220,367.8" fill="#c03c3c" fill-opacity="0.22"/>
<polygon points="230.1,336.8 242.6,350.3 230.1,363.8 217.6,350.3" fill="#e06262" fill-opacity="0.6" stroke="#c84848" stroke-opacity="0.5" stroke-width="0.5"/>
<polygon points="230.1,336.8 242.6,350.3 230.1,363.8" fill="#c03c3c" fill-opacity="0.22"/>
<polygon points="244.9,340.5 257.4,354 244.9,367.5 232.4,354" fill="#e06262" fill-opacity="0.6" stroke="#c84848" stroke-opacity="0.5" stroke-width="0.5"/>
<polygon points="244.9,340.5 257.4,354 244.9,367.5" fill="#c03c3c" fill-opacity="0.22"/>
<polygon points="263.3,331.7 275.8,345.2 263.3,358.7 250.8,345.2" fill="#e06262" fill-opacity="0.6" stroke="#c84848" stroke-opacity="0.5" stroke-width="0.5"/>
<polygon points="263.3,331.7 275.8,345.2 263.3,358.7" fill="#c03c3c" fill-opacity="0.22"/>
<polygon points="233,321.5 245.5,335 233,348.5 220.5,335" fill="#e06262" fill-opacity="0.6" stroke="#c84848" stroke-opacity="0.5" stroke-width="0.5"/>
<polygon points="233,321.5 245.5,335 233,348.5" fill="#c03c3c" fill-opacity="0.22"/>
<circle cx="245.3" cy="336.7" r="4.2" fill="#8aa040" opacity="0.8"/>
<line x1="219.20" y1="327.50" x2="219.20" y2="320.90" stroke="#c8964e" stroke-width="1.0" />
<line x1="219.20" y1="320.90" x2="219.20" y2="316.50" stroke="#e82020" stroke-width="1.0" />
<line x1="219.20" y1="327.50" x2="219.20" y2="334.10" stroke="#c8964e" stroke-width="1.0" />
<line x1="219.20" y1="334.10" x2="219.20" y2="338.50" stroke="#e82020" stroke-width="1.0" />
<line x1="219.20" y1="327.50" x2="213.20" y2="327.50" stroke="#c8964e" stroke-width="1.0" />
<line x1="213.20" y1="327.50" x2="209.20" y2="327.50" stroke="#e82020" stroke-width="1.0" />
<line x1="219.20" y1="327.50" x2="225.20" y2="327.50" stroke="#c8964e" stroke-width="1.0" />
<line x1="225.20" y1="327.50" x2="229.20" y2="327.50" stroke="#e82020" stroke-width="1.0" />
<line x1="219.20" y1="327.50" x2="222.20" y2="329.90" stroke="#c8964e" stroke-width="1.0" />
<line x1="222.20" y1="329.90" x2="224.20" y2="331.50" stroke="#e82020" stroke-width="1.0" />
<line x1="219.20" y1="327.50" x2="216.20" y2="325.10" stroke="#c8964e" stroke-width="1.0" />
<line x1="216.20" y1="325.10" x2="214.20" y2="323.50" stroke="#e82020" stroke-width="1.0" />
<line x1="243.50" y1="327.80" x2="243.50" y2="321.20" stroke="#c8964e" stroke-width="1.0" />
<line x1="243.50" y1="321.20" x2="243.50" y2="316.80" stroke="#e82020" stroke-width="1.0" />
<line x1="243.50" y1="327.80" x2="243.50" y2="334.40" stroke="#c8964e" stroke-width="1.0" />
<line x1="243.50" y1="334.40" x2="243.50" y2="338.80" stroke="#e82020" stroke-width="1.0" />
<line x1="243.50" y1="327.80" x2="237.50" y2="327.80" stroke="#c8964e" stroke-width="1.0" />
<line x1="237.50" y1="327.80" x2="233.50" y2="327.80" stroke="#e82020" stroke-width="1.0" />
<line x1="243.50" y1="327.80" x2="249.50" y2="327.80" stroke="#c8964e" stroke-width="1.0" />
<line x1="249.50" y1="327.80" x2="253.50" y2="327.80" stroke="#e82020" stroke-width="1.0" />
<line x1="243.50" y1="327.80" x2="246.50" y2="330.20" stroke="#c8964e" stroke-width="1.0" />
<line x1="246.50" y1="330.20" x2="248.50" y2="331.80" stroke="#e82020" stroke-width="1.0" />
<line x1="243.50" y1="327.80" x2="240.50" y2="325.40" stroke="#c8964e" stroke-width="1.0" />
<line x1="240.50" y1="325.40" x2="238.50" y2="323.80" stroke="#e82020" stroke-width="1.0" />
<line x1="262.40" y1="319.70" x2="262.40" y2="313.10" stroke="#c8964e" stroke-width="1.0" />
<line x1="262.40" y1="313.10" x2="262.40" y2="308.70" stroke="#e82020" stroke-width="1.0" />
<line x1="262.40" y1="319.70" x2="262.40" y2="326.30" stroke="#c8964e" stroke-width="1.0" />
<line x1="262.40" y1="326.30" x2="262.40" y2="330.70" stroke="#e82020" stroke-width="1.0" />
<line x1="262.40" y1="319.70" x2="256.40" y2="319.70" stroke="#c8964e" stroke-width="1.0" />
<line x1="256.40" y1="319.70" x2="252.40" y2="319.70" stroke="#e82020" stroke-width="1.0" />
<line x1="262.40" y1="319.70" x2="268.40" y2="319.70" stroke="#c8964e" stroke-width="1.0" />
<line x1="268.40" y1="319.70" x2="272.40" y2="319.70" stroke="#e82020" stroke-width="1.0" />
<line x1="262.40" y1="319.70" x2="265.40" y2="322.10" stroke="#c8964e" stroke-width="1.0" />
<line x1="265.40" y1="322.10" x2="267.40" y2="323.70" stroke="#e82020" stroke-width="1.0" />
<line x1="262.40" y1="319.70" x2="259.40" y2="317.30" stroke="#c8964e" stroke-width="1.0" />
<line x1="259.40" y1="317.30" x2="257.40" y2="315.70" stroke="#e82020" stroke-width="1.0" />
<line x1="253.70" y1="323.70" x2="253.70" y2="317.10" stroke="#c8964e" stroke-width="1.0" />
<line x1="253.70" y1="317.10" x2="253.70" y2="312.70" stroke="#e82020" stroke-width="1.0" />
<line x1="253.70" y1="323.70" x2="253.70" y2="330.30" stroke="#c8964e" stroke-width="1.0" />
<line x1="253.70" y1="330.30" x2="253.70" y2="334.70" stroke="#e82020" stroke-width="1.0" />
<line x1="253.70" y1="323.70" x2="247.70" y2="323.70" stroke="#c8964e" stroke-width="1.0" />
<line x1="247.70" y1="323.70" x2="243.70" y2="323.70" stroke="#e82020" stroke-width="1.0" />
<line x1="253.70" y1="323.70" x2="259.70" y2="323.70" stroke="#c8964e" stroke-width="1.0" />
<line x1="259.70" y1="323.70" x2="263.70" y2="323.70" stroke="#e82020" stroke-width="1.0" />
<line x1="253.70" y1="323.70" x2="256.70" y2="326.10" stroke="#c8964e" stroke-width="1.0" />
<line x1="256.70" y1="326.10" x2="258.70" y2="327.70" stroke="#e82020" stroke-width="1.0" />
<line x1="253.70" y1="323.70" x2="250.70" y2="321.30" stroke="#c8964e" stroke-width="1.0" />
<line x1="250.70" y1="321.30" x2="248.70" y2="319.70" stroke="#e82020" stroke-width="1.0" />
<line x1="220.00" y1="354.30" x2="220.00" y2="347.70" stroke="#c8964e" stroke-width="1.0" />
<line x1="220.00" y1="347.70" x2="220.00" y2="343.30" stroke="#e82020" stroke-width="1.0" />
<line x1="220.00" y1="354.30" x2="220.00" y2="360.90" stroke="#c8964e" stroke-width="1.0" />
<line x1="220.00" y1="360.90" x2="220.00" y2="365.30" stroke="#e82020" stroke-width="1.0" />
<line x1="220.00" y1="354.30" x2="214.00" y2="354.30" stroke="#c8964e" stroke-width="1.0" />
<line x1="214.00" y1="354.30" x2="210.00" y2="354.30" stroke="#e82020" stroke-width="1.0" />
<line x1="220.00" y1="354.30" x2="226.00" y2="354.30" stroke="#c8964e" stroke-width="1.0" />
<line x1="226.00" y1="354.30" x2="230.00" y2="354.30" stroke="#e82020" stroke-width="1.0" />
<line x1="220.00" y1="354.30" x2="223.00" y2="356.70" stroke="#c8964e" stroke-width="1.0" />
<line x1="223.00" y1="356.70" x2="225.00" y2="358.30" stroke="#e82020" stroke-width="1.0" />
<line x1="220.00" y1="354.30" x2="217.00" y2="351.90" stroke="#c8964e" stroke-width="1.0" />
<line x1="217.00" y1="351.90" x2="215.00" y2="350.30" stroke="#e82020" stroke-width="1.0" />
<line x1="230.10" y1="350.30" x2="230.10" y2="343.70" stroke="#c8964e" stroke-width="1.0" />
<line x1="230.10" y1="343.70" x2="230.10" y2="339.30" stroke="#e82020" stroke-width="1.0" />
<line x1="230.10" y1="350.30" x2="230.10" y2="356.90" stroke="#c8964e" stroke-width="1.0" />
<line x1="230.10" y1="356.90" x2="230.10" y2="361.30" stroke="#e82020" stroke-width="1.0" />
<line x1="230.10" y1="350.30" x2="224.10" y2="350.30" stroke="#c8964e" stroke-width="1.0" />
<line x1="224.10" y1="350.30" x2="220.10" y2="350.30" stroke="#e82020" stroke-width="1.0" />
<line x1="230.10" y1="350.30" x2="236.10" y2="350.30" stroke="#c8964e" stroke-width="1.0" />
<line x1="236.10" y1="350.30" x2="240.10" y2="350.30" stroke="#e82020" stroke-width="1.0" />
<line x1="230.10" y1="350.30" x2="233.10" y2="352.70" stroke="#c8964e" stroke-width="1.0" />
<line x1="233.10" y1="352.70" x2="235.10" y2="354.30" stroke="#e82020" stroke-width="1.0" />
<line x1="230.10" y1="350.30" x2="227.10" y2="347.90" stroke="#c8964e" stroke-width="1.0" />
<line x1="227.10" y1="347.90" x2="225.10" y2="346.30" stroke="#e82020" stroke-width="1.0" />
<line x1="244.90" y1="354.00" x2="244.90" y2="347.40" stroke="#c8964e" stroke-width="1.0" />
<line x1="244.90" y1="347.40" x2="244.90" y2="343.00" stroke="#e82020" stroke-width="1.0" />
<line x1="244.90" y1="354.00" x2="244.90" y2="360.60" stroke="#c8964e" stroke-width="1.0" />
<line x1="244.90" y1="360.60" x2="244.90" y2="365.00" stroke="#e82020" stroke-width="1.0" />
<line x1="244.90" y1="354.00" x2="238.90" y2="354.00" stroke="#c8964e" stroke-width="1.0" />
<line x1="238.90" y1="354.00" x2="234.90" y2="354.00" stroke="#e82020" stroke-width="1.0" />
<line x1="244.90" y1="354.00" x2="250.90" y2="354.00" stroke="#c8964e" stroke-width="1.0" />
<line x1="250.90" y1="354.00" x2="254.90" y2="354.00" stroke="#e82020" stroke-width="1.0" />
<line x1="244.90" y1="354.00" x2="247.90" y2="356.40" stroke="#c8964e" stroke-width="1.0" />
<line x1="247.90" y1="356.40" x2="249.90" y2="358.00" stroke="#e82020" stroke-width="1.0" />
<line x1="244.90" y1="354.00" x2="241.90" y2="351.60" stroke="#c8964e" stroke-width="1.0" />
<line x1="241.90" y1="351.60" x2="239.90" y2="350.00" stroke="#e82020" stroke-width="1.0" />
<line x1="263.30" y1="345.20" x2="263.30" y2="338.60" stroke="#c8964e" stroke-width="1.0" />
<line x1="263.30" y1="338.60" x2="263.30" y2="334.20" stroke="#e82020" stroke-width="1.0" />
<line x1="263.30" y1="345.20" x2="263.30" y2="351.80" stroke="#c8964e" stroke-width="1.0" />
<line x1="263.30" y1="351.80" x2="263.30" y2="356.20" stroke="#e82020" stroke-width="1.0" />
<line x1="263.30" y1="345.20" x2="257.30" y2="345.20" stroke="#c8964e" stroke-width="1.0" />
<line x1="257.30" y1="345.20" x2="253.30" y2="345.20" stroke="#e82020" stroke-width="1.0" />
<line x1="263.30" y1="345.20" x2="269.30" y2="345.20" stroke="#c8964e" stroke-width="1.0" />
<line x1="269.30" y1="345.20" x2="273.30" y2="345.20" stroke="#e82020" stroke-width="1.0" />
<line x1="263.30" y1="345.20" x2="266.30" y2="347.60" stroke="#c8964e" stroke-width="1.0" />
<line x1="266.30" y1="347.60" x2="268.30" y2="349.20" stroke="#e82020" stroke-width="1.0" />
<line x1="263.30" y1="345.20" x2="260.30" y2="342.80" stroke="#c8964e" stroke-width="1.0" />
<line x1="260.30" y1="342.80" x2="258.30" y2="341.20" stroke="#e82020" stroke-width="1.0" />
<line x1="233.00" y1="335.00" x2="233.00" y2="328.40" stroke="#c8964e" stroke-width="1.0" />
<line x1="233.00" y1="328.40" x2="233.00" y2="324.00" stroke="#e82020" stroke-width="1.0" />
<line x1="233.00" y1="335.00" x2="233.00" y2="341.60" stroke="#c8964e" stroke-width="1.0" />
<line x1="233.00" y1="341.60" x2="233.00" y2="346.00" stroke="#e82020" stroke-width="1.0" />
<line x1="233.00" y1="335.00" x2="227.00" y2="335.00" stroke="#c8964e" stroke-width="1.0" />
<line x1="227.00" y1="335.00" x2="223.00" y2="335.00" stroke="#e82020" stroke-width="1.0" />
<line x1="233.00" y1="335.00" x2="239.00" y2="335.00" stroke="#c8964e" stroke-width="1.0" />
<line x1="239.00" y1="335.00" x2="243.00" y2="335.00" stroke="#e82020" stroke-width="1.0" />
<line x1="233.00" y1="335.00" x2="236.00" y2="337.40" stroke="#c8964e" stroke-width="1.0" />
<line x1="236.00" y1="337.40" x2="238.00" y2="339.00" stroke="#e82020" stroke-width="1.0" />
<line x1="233.00" y1="335.00" x2="230.00" y2="332.60" stroke="#c8964e" stroke-width="1.0" />
<line x1="230.00" y1="332.60" x2="228.00" y2="331.00" stroke="#e82020" stroke-width="1.0" />
<circle cx="219.2" cy="327.5" r="2.5" fill="#c28a48"/>
<circle cx="218.6" cy="326.9" r="1" fill="#e8c890" opacity="0.8"/>
<circle cx="243.5" cy="327.8" r="2.5" fill="#c28a48"/>
<circle cx="242.9" cy="327.2" r="1" fill="#e8c890" opacity="0.8"/>
<circle cx="262.4" cy="319.7" r="2.5" fill="#c28a48"/>
<circle cx="261.79999999999995" cy="319.09999999999997" r="1" fill="#e8c890" opacity="0.8"/>
<circle cx="253.7" cy="323.7" r="2.5" fill="#c28a48"/>
<circle cx="253.1" cy="323.09999999999997" r="1" fill="#e8c890" opacity="0.8"/>
<circle cx="220" cy="354.3" r="2.5" fill="#c28a48"/>
<circle cx="219.4" cy="353.7" r="1" fill="#e8c890" opacity="0.8"/>
<circle cx="230.1" cy="350.3" r="2.5" fill="#c28a48"/>
<circle cx="229.5" cy="349.7" r="1" fill="#e8c890" opacity="0.8"/>
<circle cx="244.9" cy="354" r="2.5" fill="#c28a48"/>
<circle cx="244.3" cy="353.4" r="1" fill="#e8c890" opacity="0.8"/>
<circle cx="263.3" cy="345.2" r="2.5" fill="#c28a48"/>
<circle cx="262.7" cy="344.59999999999997" r="1" fill="#e8c890" opacity="0.8"/>
<circle cx="233" cy="335" r="2.5" fill="#c28a48"/>
<circle cx="232.4" cy="334.4" r="1" fill="#e8c890" opacity="0.8"/>
<line x1="201.20" y1="335.20" x2="224.80" y2="309.40" stroke="#111" stroke-width="0.9" />
<line x1="224.80" y1="309.40" x2="257.50" y2="342.50" stroke="#111" stroke-width="0.9" />
<line x1="201.20" y1="335.20" x2="234.00" y2="368.50" stroke="#111" stroke-width="0.9" />
<line x1="201.20" y1="348.90" x2="225.00" y2="323.00" stroke="#111" stroke-width="0.9" />
<line x1="201.20" y1="348.90" x2="226.80" y2="374.40" stroke="#111" stroke-width="0.9" />
<line x1="226.80" y1="374.40" x2="273.40" y2="334.40" stroke="#111" stroke-width="0.9" />
<line x1="273.40" y1="334.40" x2="249.50" y2="310.50" stroke="#111" stroke-width="0.9" />
<line x1="273.40" y1="334.40" x2="240.00" y2="348.00" stroke="#111" stroke-width="0.9" />
<polygon points="202.6,334.1 206.6,332.6 204.6,330.6" fill="#111"/>
<polygon points="224,310.4 220,312 222,314" fill="#111"/>
<polygon points="202.3,350.2 206.3,351.6 204.2,353.8" fill="#111"/>
<polygon points="225.8,373.4 221.8,372 223.9,369.8" fill="#111"/>
<path d="M 226.5 320 Q 231 324.5 236 321" fill="none" stroke="#111" stroke-width="1.1"/>
<text transform="translate(228.6,332.5)" font-size="10" fill="#111" text-anchor="start" font-weight="normal" font-style="italic" font-family='"Liberation Sans", sans-serif'>γ</text>
<circle cx="243.6" cy="310" r="5.0" fill="#2fb82f"/>
<circle cx="242.2" cy="308.6" r="2.2" fill="#8de88d" opacity="0.75"/>
<circle cx="236.7" cy="339.6" r="4.9" fill="#2fb82f"/>
<circle cx="235.29999999999998" cy="338.20000000000005" r="2.2" fill="#8de88d" opacity="0.75"/>
<circle cx="237.4" cy="365.7" r="4.9" fill="#2fb82f"/>
<circle cx="236.0" cy="364.3" r="2.2" fill="#8de88d" opacity="0.75"/>
<circle cx="263.2" cy="307.8" r="2.1" fill="#ee1a1a"/>
<circle cx="262.7" cy="307.3" r="0.7" fill="#ff8080" opacity="0.8"/>
<circle cx="253.3" cy="311.7" r="2.1" fill="#ee1a1a"/>
<circle cx="252.8" cy="311.2" r="0.7" fill="#ff8080" opacity="0.8"/>
<circle cx="246.1" cy="314.5" r="2.1" fill="#ee1a1a"/>
<circle cx="245.6" cy="314.0" r="0.7" fill="#ff8080" opacity="0.8"/>
<circle cx="272.3" cy="323.7" r="2.1" fill="#ee1a1a"/>
<circle cx="271.8" cy="323.2" r="0.7" fill="#ff8080" opacity="0.8"/>
<circle cx="265.6" cy="326.4" r="2.1" fill="#ee1a1a"/>
<circle cx="265.1" cy="325.9" r="0.7" fill="#ff8080" opacity="0.8"/>
<circle cx="255.2" cy="330.4" r="2.1" fill="#ee1a1a"/>
<circle cx="254.7" cy="329.9" r="0.7" fill="#ff8080" opacity="0.8"/>
<circle cx="258.8" cy="335" r="2.1" fill="#ee1a1a"/>
<circle cx="258.3" cy="334.5" r="0.7" fill="#ff8080" opacity="0.8"/>
<circle cx="251.7" cy="337.9" r="2.1" fill="#ee1a1a"/>
<circle cx="251.2" cy="337.4" r="0.7" fill="#ff8080" opacity="0.8"/>
<circle cx="241.7" cy="341.9" r="2.1" fill="#ee1a1a"/>
<circle cx="241.2" cy="341.4" r="0.7" fill="#ff8080" opacity="0.8"/>
<circle cx="237.4" cy="328" r="2.1" fill="#ee1a1a"/>
<circle cx="236.9" cy="327.5" r="0.7" fill="#ff8080" opacity="0.8"/>
<circle cx="275.1" cy="345.5" r="2.1" fill="#ee1a1a"/>
<circle cx="274.6" cy="345.0" r="0.7" fill="#ff8080" opacity="0.8"/>
<circle cx="265.2" cy="349.4" r="2.1" fill="#ee1a1a"/>
<circle cx="264.7" cy="348.9" r="0.7" fill="#ff8080" opacity="0.8"/>
<circle cx="258" cy="352.2" r="2.1" fill="#ee1a1a"/>
<circle cx="257.5" cy="351.7" r="0.7" fill="#ff8080" opacity="0.8"/>
<circle cx="233.4" cy="308.6" r="2.1" fill="#ee1a1a"/>
<circle cx="232.9" cy="308.1" r="0.7" fill="#ff8080" opacity="0.8"/>
<circle cx="215.9" cy="315.1" r="2.1" fill="#ee1a1a"/>
<circle cx="215.4" cy="314.6" r="0.7" fill="#ff8080" opacity="0.8"/>
<circle cx="225.4" cy="311.5" r="2.1" fill="#ee1a1a"/>
<circle cx="224.9" cy="311.0" r="0.7" fill="#ff8080" opacity="0.8"/>
<circle cx="205.3" cy="330.1" r="2.1" fill="#ee1a1a"/>
<circle cx="204.8" cy="329.6" r="0.7" fill="#ff8080" opacity="0.8"/>
<circle cx="216.6" cy="331.9" r="2.1" fill="#ee1a1a"/>
<circle cx="216.1" cy="331.4" r="0.7" fill="#ff8080" opacity="0.8"/>
<circle cx="231.9" cy="325.7" r="2.1" fill="#ee1a1a"/>
<circle cx="231.4" cy="325.2" r="0.7" fill="#ff8080" opacity="0.8"/>
<circle cx="245.8" cy="314.4" r="2.1" fill="#ee1a1a"/>
<circle cx="245.3" cy="313.9" r="0.7" fill="#ff8080" opacity="0.8"/>
<circle cx="229.4" cy="338.5" r="2.1" fill="#ee1a1a"/>
<circle cx="228.9" cy="338.0" r="0.7" fill="#ff8080" opacity="0.8"/>
<circle cx="221.4" cy="339.2" r="2.1" fill="#ee1a1a"/>
<circle cx="220.9" cy="338.7" r="0.7" fill="#ff8080" opacity="0.8"/>
<circle cx="208.6" cy="352.2" r="2.1" fill="#ee1a1a"/>
<circle cx="208.1" cy="351.7" r="0.7" fill="#ff8080" opacity="0.8"/>
<circle cx="213.7" cy="354.7" r="2.1" fill="#ee1a1a"/>
<circle cx="213.2" cy="354.2" r="0.7" fill="#ff8080" opacity="0.8"/>
<circle cx="222.1" cy="341.2" r="2.1" fill="#ee1a1a"/>
<circle cx="221.6" cy="340.7" r="0.7" fill="#ff8080" opacity="0.8"/>
<circle cx="226.5" cy="354.7" r="2.1" fill="#ee1a1a"/>
<circle cx="226.0" cy="354.2" r="0.7" fill="#ff8080" opacity="0.8"/>
<circle cx="231.6" cy="356.9" r="2.1" fill="#ee1a1a"/>
<circle cx="231.1" cy="356.4" r="0.7" fill="#ff8080" opacity="0.8"/>
<circle cx="241.8" cy="358.4" r="2.1" fill="#ee1a1a"/>
<circle cx="241.3" cy="357.9" r="0.7" fill="#ff8080" opacity="0.8"/>
<circle cx="227.9" cy="364.6" r="2.1" fill="#ee1a1a"/>
<circle cx="227.4" cy="364.1" r="0.7" fill="#ff8080" opacity="0.8"/>
<circle cx="218.1" cy="368.6" r="2.1" fill="#ee1a1a"/>
<circle cx="217.6" cy="368.1" r="0.7" fill="#ff8080" opacity="0.8"/>
<circle cx="241.8" cy="341.9" r="2.1" fill="#ee1a1a"/>
<circle cx="241.3" cy="341.4" r="0.7" fill="#ff8080" opacity="0.8"/>
<circle cx="210" cy="327" r="2.1" fill="#ee1a1a"/>
<circle cx="209.5" cy="326.5" r="0.7" fill="#ff8080" opacity="0.8"/>
<circle cx="268" cy="340" r="2.1" fill="#ee1a1a"/>
<circle cx="267.5" cy="339.5" r="0.7" fill="#ff8080" opacity="0.8"/>
<circle cx="249" cy="347" r="2.1" fill="#ee1a1a"/>
<circle cx="248.5" cy="346.5" r="0.7" fill="#ff8080" opacity="0.8"/>
<circle cx="234" cy="346" r="2.1" fill="#ee1a1a"/>
<circle cx="233.5" cy="345.5" r="0.7" fill="#ff8080" opacity="0.8"/>
<text transform="translate(198.6,317.5) scale(0.92,1)" font-size="12" fill="#222" text-anchor="start" font-weight="normal" font-style="italic" font-family='"Liberation Sans", sans-serif'>a<tspan font-size="8" dy="2.8" font-style="normal">o</tspan></text>
<text transform="translate(201.6,374.2) scale(0.92,1)" font-size="12" fill="#222" text-anchor="start" font-weight="normal" font-style="italic" font-family='"Liberation Sans", sans-serif'>b<tspan font-size="8" dy="2.8" font-style="normal">o</tspan></text>
<line x1="278.90" y1="350.60" x2="278.90" y2="332.00" stroke="#111" stroke-width="1.3" />
<polygon points="276.9,333.8 278.9,326.4 280.9,333.8" fill="#111"/>
<text transform="translate(281.6,345.2) scale(0.92,1)" font-size="11.8" fill="#222" text-anchor="start" font-weight="normal" font-style="normal" font-family='"Liberation Sans", sans-serif'>film normal</text>
<text transform="translate(4.2,431.2) scale(0.8,1)" font-size="28" fill="#000" text-anchor="start" font-weight="bold" font-style="normal" font-family='"Liberation Sans", sans-serif'>c</text>
<line x1="129.00" y1="535.40" x2="129.00" y2="579.60" stroke="#e0464e" stroke-width="1.1" />
<line x1="127.20" y1="535.40" x2="130.80" y2="535.40" stroke="#e0464e" stroke-width="1.1" />
<line x1="127.20" y1="579.60" x2="130.80" y2="579.60" stroke="#e0464e" stroke-width="1.1" />
<rect x="124.6" y="553.0" width="8.8" height="8.8" fill="#fff" stroke="#e0464e" stroke-width="1.2"/>
<line x1="147.00" y1="535.40" x2="147.00" y2="579.60" stroke="#e0464e" stroke-width="1.1" />
<line x1="145.20" y1="535.40" x2="148.80" y2="535.40" stroke="#e0464e" stroke-width="1.1" />
<line x1="145.20" y1="579.60" x2="148.80" y2="579.60" stroke="#e0464e" stroke-width="1.1" />
<rect x="142.6" y="553.2" width="8.8" height="8.8" fill="#fff" stroke="#e0464e" stroke-width="1.2"/>
<line x1="165.00" y1="484.00" x2="165.00" y2="519.40" stroke="#e0464e" stroke-width="1.1" />
<line x1="163.20" y1="484.00" x2="166.80" y2="484.00" stroke="#e0464e" stroke-width="1.1" />
<line x1="163.20" y1="519.40" x2="166.80" y2="519.40" stroke="#e0464e" stroke-width="1.1" />
<rect x="160.6" y="497.6" width="8.8" height="8.8" fill="#fff" stroke="#e0464e" stroke-width="1.2"/>
<line x1="201.00" y1="435.40" x2="201.00" y2="489.60" stroke="#e0464e" stroke-width="1.1" />
<line x1="199.20" y1="435.40" x2="202.80" y2="435.40" stroke="#e0464e" stroke-width="1.1" />
<line x1="199.20" y1="489.60" x2="202.80" y2="489.60" stroke="#e0464e" stroke-width="1.1" />
<rect x="196.6" y="458.0" width="8.8" height="8.8" fill="#fff" stroke="#e0464e" stroke-width="1.2"/>
<line x1="237.30" y1="435.40" x2="237.30" y2="486.40" stroke="#e0464e" stroke-width="1.1" />
<line x1="235.50" y1="435.40" x2="239.10" y2="435.40" stroke="#e0464e" stroke-width="1.1" />
<line x1="235.50" y1="486.40" x2="239.10" y2="486.40" stroke="#e0464e" stroke-width="1.1" />
<rect x="232.9" y="456.20000000000005" width="8.8" height="8.8" fill="#fff" stroke="#e0464e" stroke-width="1.2"/>
<line x1="327.40" y1="428.60" x2="327.40" y2="488.00" stroke="#e0464e" stroke-width="1.1" />
<line x1="325.60" y1="428.60" x2="329.20" y2="428.60" stroke="#e0464e" stroke-width="1.1" />
<line x1="325.60" y1="488.00" x2="329.20" y2="488.00" stroke="#e0464e" stroke-width="1.1" />
<rect x="323.0" y="454.0" width="8.8" height="8.8" fill="#fff" stroke="#e0464e" stroke-width="1.2"/>
<line x1="165.00" y1="419.40" x2="165.00" y2="584.40" stroke="#111" stroke-width="1.8" stroke-dasharray="4.6 2.9"/>
<rect x="56.6" y="419.4" width="280.0" height="165.0" fill="none" stroke="#3c3c3c" stroke-width="1.3"/>
<line x1="56.60" y1="419.40" x2="56.60" y2="422.90" stroke="#3c3c3c" stroke-width="1" />
<line x1="56.60" y1="584.40" x2="56.60" y2="580.90" stroke="#3c3c3c" stroke-width="1" />
<text transform="translate(56.6,597.9) scale(0.95,1)" font-size="11" fill="#222" text-anchor="middle" font-weight="normal" font-style="normal" font-family='"Liberation Sans", sans-serif'>0</text>
<line x1="79.20" y1="419.40" x2="79.20" y2="421.40" stroke="#3c3c3c" stroke-width="1" />
<line x1="79.20" y1="584.40" x2="79.20" y2="582.40" stroke="#3c3c3c" stroke-width="1" />
<line x1="101.80" y1="419.40" x2="101.80" y2="422.90" stroke="#3c3c3c" stroke-width="1" />
<line x1="101.80" y1="584.40" x2="101.80" y2="580.90" stroke="#3c3c3c" stroke-width="1" />
<text transform="translate(101.8,597.9) scale(0.95,1)" font-size="11" fill="#222" text-anchor="middle" font-weight="normal" font-style="normal" font-family='"Liberation Sans", sans-serif'>5</text>
<line x1="124.40" y1="419.40" x2="124.40" y2="421.40" stroke="#3c3c3c" stroke-width="1" />
<line x1="124.40" y1="584.40" x2="124.40" y2="582.40" stroke="#3c3c3c" stroke-width="1" />
<line x1="147.00" y1="419.40" x2="147.00" y2="422.90" stroke="#3c3c3c" stroke-width="1" />
<line x1="147.00" y1="584.40" x2="147.00" y2="580.90" stroke="#3c3c3c" stroke-width="1" />
<text transform="translate(147.0,597.9) scale(0.95,1)" font-size="11" fill="#222" text-anchor="middle" font-weight="normal" font-style="normal" font-family='"Liberation Sans", sans-serif'>10</text>
<line x1="169.60" y1="419.40" x2="169.60" y2="421.40" stroke="#3c3c3c" stroke-width="1" />
<line x1="169.60" y1="584.40" x2="169.60" y2="582.40" stroke="#3c3c3c" stroke-width="1" />
<line x1="192.20" y1="419.40" x2="192.20" y2="422.90" stroke="#3c3c3c" stroke-width="1" />
<line x1="192.20" y1="584.40" x2="192.20" y2="580.90" stroke="#3c3c3c" stroke-width="1" />
<text transform="translate(192.2,597.9) scale(0.95,1)" font-size="11" fill="#222" text-anchor="middle" font-weight="normal" font-style="normal" font-family='"Liberation Sans", sans-serif'>15</text>
<line x1="214.80" y1="419.40" x2="214.80" y2="421.40" stroke="#3c3c3c" stroke-width="1" />
<line x1="214.80" y1="584.40" x2="214.80" y2="582.40" stroke="#3c3c3c" stroke-width="1" />
<line x1="237.40" y1="419.40" x2="237.40" y2="422.90" stroke="#3c3c3c" stroke-width="1" />
<line x1="237.40" y1="584.40" x2="237.40" y2="580.90" stroke="#3c3c3c" stroke-width="1" />
<text transform="translate(237.39999999999998,597.9) scale(0.95,1)" font-size="11" fill="#222" text-anchor="middle" font-weight="normal" font-style="normal" font-family='"Liberation Sans", sans-serif'>20</text>
<line x1="260.00" y1="419.40" x2="260.00" y2="421.40" stroke="#3c3c3c" stroke-width="1" />
<line x1="260.00" y1="584.40" x2="260.00" y2="582.40" stroke="#3c3c3c" stroke-width="1" />
<line x1="282.60" y1="419.40" x2="282.60" y2="422.90" stroke="#3c3c3c" stroke-width="1" />
<line x1="282.60" y1="584.40" x2="282.60" y2="580.90" stroke="#3c3c3c" stroke-width="1" />
<text transform="translate(282.59999999999997,597.9) scale(0.95,1)" font-size="11" fill="#222" text-anchor="middle" font-weight="normal" font-style="normal" font-family='"Liberation Sans", sans-serif'>25</text>
<line x1="305.20" y1="419.40" x2="305.20" y2="421.40" stroke="#3c3c3c" stroke-width="1" />
<line x1="305.20" y1="584.40" x2="305.20" y2="582.40" stroke="#3c3c3c" stroke-width="1" />
<line x1="327.80" y1="419.40" x2="327.80" y2="422.90" stroke="#3c3c3c" stroke-width="1" />
<line x1="327.80" y1="584.40" x2="327.80" y2="580.90" stroke="#3c3c3c" stroke-width="1" />
<text transform="translate(327.8,597.9) scale(0.95,1)" font-size="11" fill="#222" text-anchor="middle" font-weight="normal" font-style="normal" font-family='"Liberation Sans", sans-serif'>30</text>
<line x1="56.60" y1="584.40" x2="60.10" y2="584.40" stroke="#3c3c3c" stroke-width="1" />
<line x1="336.60" y1="584.40" x2="333.10" y2="584.40" stroke="#3c3c3c" stroke-width="1" />
<text transform="translate(54,588.0) scale(0.92,1)" font-size="11.8" fill="#222" text-anchor="end" font-weight="normal" font-style="normal" font-family='"Liberation Sans", sans-serif'>0.1</text>
<line x1="56.60" y1="569.30" x2="58.60" y2="569.30" stroke="#3c3c3c" stroke-width="1" />
<line x1="336.60" y1="569.30" x2="334.60" y2="569.30" stroke="#3c3c3c" stroke-width="1" />
<line x1="56.60" y1="554.20" x2="60.10" y2="554.20" stroke="#3c3c3c" stroke-width="1" />
<line x1="336.60" y1="554.20" x2="333.10" y2="554.20" stroke="#3c3c3c" stroke-width="1" />
<text transform="translate(54,557.8) scale(0.92,1)" font-size="11.8" fill="#222" text-anchor="end" font-weight="normal" font-style="normal" font-family='"Liberation Sans", sans-serif'>0.2</text>
<line x1="56.60" y1="539.10" x2="58.60" y2="539.10" stroke="#3c3c3c" stroke-width="1" />
<line x1="336.60" y1="539.10" x2="334.60" y2="539.10" stroke="#3c3c3c" stroke-width="1" />
<line x1="56.60" y1="524.00" x2="60.10" y2="524.00" stroke="#3c3c3c" stroke-width="1" />
<line x1="336.60" y1="524.00" x2="333.10" y2="524.00" stroke="#3c3c3c" stroke-width="1" />
<text transform="translate(54,527.6) scale(0.92,1)" font-size="11.8" fill="#222" text-anchor="end" font-weight="normal" font-style="normal" font-family='"Liberation Sans", sans-serif'>0.3</text>
<line x1="56.60" y1="508.90" x2="58.60" y2="508.90" stroke="#3c3c3c" stroke-width="1" />
<line x1="336.60" y1="508.90" x2="334.60" y2="508.90" stroke="#3c3c3c" stroke-width="1" />
<line x1="56.60" y1="493.80" x2="60.10" y2="493.80" stroke="#3c3c3c" stroke-width="1" />
<line x1="336.60" y1="493.80" x2="333.10" y2="493.80" stroke="#3c3c3c" stroke-width="1" />
<text transform="translate(54,497.4) scale(0.92,1)" font-size="11.8" fill="#222" text-anchor="end" font-weight="normal" font-style="normal" font-family='"Liberation Sans", sans-serif'>0.4</text>
<line x1="56.60" y1="478.70" x2="58.60" y2="478.70" stroke="#3c3c3c" stroke-width="1" />
<line x1="336.60" y1="478.70" x2="334.60" y2="478.70" stroke="#3c3c3c" stroke-width="1" />
<line x1="56.60" y1="463.60" x2="60.10" y2="463.60" stroke="#3c3c3c" stroke-width="1" />
<line x1="336.60" y1="463.60" x2="333.10" y2="463.60" stroke="#3c3c3c" stroke-width="1" />
<text transform="translate(54,467.2) scale(0.92,1)" font-size="11.8" fill="#222" text-anchor="end" font-weight="normal" font-style="normal" font-family='"Liberation Sans", sans-serif'>0.5</text>
<line x1="56.60" y1="448.50" x2="58.60" y2="448.50" stroke="#3c3c3c" stroke-width="1" />
<line x1="336.60" y1="448.50" x2="334.60" y2="448.50" stroke="#3c3c3c" stroke-width="1" />
<line x1="56.60" y1="433.40" x2="60.10" y2="433.40" stroke="#3c3c3c" stroke-width="1" />
<line x1="336.60" y1="433.40" x2="333.10" y2="433.40" stroke="#3c3c3c" stroke-width="1" />
<text transform="translate(54,437.0) scale(0.92,1)" font-size="11.8" fill="#222" text-anchor="end" font-weight="normal" font-style="normal" font-family='"Liberation Sans", sans-serif'>0.6</text>
<text transform="translate(145,611.5) scale(0.924,1)" font-size="12" fill="#222" text-anchor="start" font-weight="normal" font-style="normal" font-family='"Liberation Sans", sans-serif'>SrIrO<tspan font-size="8.2" dy="3.2">3</tspan><tspan dy="-3.2"> thickeness (uc)</tspan></text>
<text transform="translate(27.6,508.2) rotate(-90)" font-size="11.8" fill="#111" font-style="italic" font-weight="bold" font-family='"Liberation Sans", sans-serif'>θ</text>
<rect x="26.4" y="499" width="6.4" height="3.7" fill="#b0b0b0"/>
<text x="352.5" y="21.5" font-size="28" fill="#000" text-anchor="start" font-weight="bold" font-style="normal" font-family='"Liberation Sans", sans-serif' >d</text>
<polygon points="404.6,58.4 426.0,48.0 454.6,52.4 432.6,62.4" fill="none" stroke="#b244cc" stroke-width="1.15"/>
<polygon points="404.6,108.0 426.0,98.6 454.6,102.4 432.6,112.6" fill="none" stroke="#b244cc" stroke-width="1.15"/>
<line x1="404.60" y1="58.40" x2="404.60" y2="108.00" stroke="#b244cc" stroke-width="1.15" />
<line x1="426.00" y1="48.00" x2="426.00" y2="98.60" stroke="#b244cc" stroke-width="1.15" />
<line x1="454.60" y1="52.40" x2="454.60" y2="102.40" stroke="#b244cc" stroke-width="1.15" />
<line x1="432.60" y1="62.40" x2="432.60" y2="112.60" stroke="#b244cc" stroke-width="1.15" />
<line x1="426.00" y1="99.00" x2="426.00" y2="37.10" stroke="#3656b8" stroke-width="2.4" />
<polygon points="426.0,28.0 429.3,38.7 426.0,37.1 422.7,38.7" fill="#3656b8"/>
<line x1="426.00" y1="99.00" x2="472.97" y2="104.87" stroke="#3a9038" stroke-width="2.4" />
<polygon points="482.0,106.0 471.0,107.9 473.0,104.9 471.8,101.4" fill="#3a9038"/>
<line x1="426.00" y1="99.00" x2="388.21" y2="117.07" stroke="#222" stroke-width="2.4" />
<polygon points="380.0,121.0 388.2,113.4 388.2,117.1 391.1,119.4" fill="#222"/>
<polygon points="493.6,66.0 514.6,56.6 548.0,61.4 527.0,71.0" fill="none" stroke="#b244cc" stroke-width="1.15"/>
<polygon points="498.0,109.0 518.6,98.0 552.4,103.0 531.4,113.6" fill="none" stroke="#b244cc" stroke-width="1.15"/>
<line x1="493.60" y1="66.00" x2="498.00" y2="109.00" stroke="#b244cc" stroke-width="1.15" />
<line x1="514.60" y1="56.60" x2="518.60" y2="98.00" stroke="#b244cc" stroke-width="1.15" />
<line x1="548.00" y1="61.40" x2="552.40" y2="103.00" stroke="#b244cc" stroke-width="1.15" />
<line x1="527.00" y1="71.00" x2="531.40" y2="113.60" stroke="#b244cc" stroke-width="1.15" />
<line x1="518.60" y1="98.00" x2="518.60" y2="37.70" stroke="#3656b8" stroke-width="2.4" />
<polygon points="518.6,28.6 521.9,39.3 518.6,37.7 515.3,39.3" fill="#3656b8"/>
<line x1="518.60" y1="98.00" x2="565.99" y2="104.72" stroke="#3a9038" stroke-width="2.4" />
<polygon points="575.0,106.0 563.9,107.8 566.0,104.7 564.9,101.2" fill="#3a9038"/>
<line x1="518.60" y1="98.00" x2="481.12" y2="116.90" stroke="#222" stroke-width="2.4" />
<polygon points="473.0,121.0 481.1,113.2 481.1,116.9 484.0,119.1" fill="#222"/>
<polygon points="580.6,78.0 611.0,63.6 648.4,69.0 618.0,82.6" fill="none" stroke="#b244cc" stroke-width="1.15"/>
<polygon points="580.6,113.6 611.0,98.0 648.4,104.0 618.0,119.4" fill="none" stroke="#b244cc" stroke-width="1.15"/>
<line x1="580.60" y1="78.00" x2="580.60" y2="113.60" stroke="#b244cc" stroke-width="1.15" />
<line x1="611.00" y1="63.60" x2="611.00" y2="98.00" stroke="#b244cc" stroke-width="1.15" />
<line x1="648.40" y1="69.00" x2="648.40" y2="104.00" stroke="#b244cc" stroke-width="1.15" />
<line x1="618.00" y1="82.60" x2="618.00" y2="119.40" stroke="#b244cc" stroke-width="1.15" />
<line x1="611.00" y1="98.00" x2="611.00" y2="37.70" stroke="#3656b8" stroke-width="2.4" />
<polygon points="611.0,28.6 614.3,39.3 611.0,37.7 607.7,39.3" fill="#3656b8"/>
<line x1="611.00" y1="98.00" x2="658.59" y2="104.73" stroke="#3a9038" stroke-width="2.4" />
<polygon points="667.6,106.0 656.5,107.8 658.6,104.7 657.5,101.2" fill="#3a9038"/>
<line x1="611.00" y1="98.00" x2="573.14" y2="116.93" stroke="#222" stroke-width="2.4" />
<polygon points="565.0,121.0 573.1,113.3 573.1,116.9 576.0,119.2" fill="#222"/>
<text transform="translate(502,96)" font-size="13.2" fill="#d7a6e6" text-anchor="start" font-weight="normal" font-style="italic" font-family='"Liberation Sans", sans-serif'>β</text>
<path d="M 516.6 87.8 Q 511.2 92 511.4 100.6" fill="none" stroke="#d7a6e6" stroke-width="1" stroke-dasharray="1.6 1"/>
<text x="426.8" y="22.4" font-size="12.4" fill="#333" text-anchor="middle" font-weight="normal" font-style="normal" font-family='"Liberation Sans", sans-serif' textLength="27.6" lengthAdjust="spacingAndGlyphs" >NGO</text>
<text x="518" y="22.4" font-size="12.4" fill="#333" text-anchor="middle" font-weight="normal" font-style="normal" font-family='"Liberation Sans", sans-serif' textLength="24.8" lengthAdjust="spacingAndGlyphs" >STO</text>
<text x="611.3" y="22.4" font-size="12.4" fill="#333" text-anchor="middle" font-weight="normal" font-style="normal" font-family='"Liberation Sans", sans-serif' textLength="24.6" lengthAdjust="spacingAndGlyphs" >KTO</text>
<text x="393.6" y="39.2" font-size="10.5" fill="#4a72c4" text-anchor="start" font-weight="normal" font-style="normal" font-family='"Liberation Sans", sans-serif' textLength="27" lengthAdjust="spacingAndGlyphs" >[001]</text>
<text x="374" y="106.8" font-size="10.5" fill="#555" text-anchor="start" font-weight="normal" font-style="normal" font-family='"Liberation Sans", sans-serif' textLength="26" lengthAdjust="spacingAndGlyphs" >[100]</text>
<text x="442.6" y="118" font-size="10.5" fill="#3c9a3c" text-anchor="start" font-weight="normal" font-style="normal" font-family='"Liberation Sans", sans-serif' textLength="26.4" lengthAdjust="spacingAndGlyphs" >[010]</text>
<text x="405.5" y="141.5" font-size="13" fill="#333" text-anchor="start" font-weight="normal" font-style="italic" font-family='"Liberation Sans", sans-serif' textLength="41.6" lengthAdjust="spacingAndGlyphs" >a=b&lt;c</text>
<text x="476.3" y="141.5" font-size="13" fill="#333" text-anchor="start" font-weight="normal" font-style="italic" font-family='"Liberation Sans", sans-serif' textLength="91.5" lengthAdjust="spacingAndGlyphs" >a&lt;b&lt;c, β&lt;90°</text>
<text x="591.6" y="141.5" font-size="13" fill="#333" text-anchor="start" font-weight="normal" font-style="italic" font-family='"Liberation Sans", sans-serif' textLength="42" lengthAdjust="spacingAndGlyphs" >a=b&gt;c</text>
<rect x="424" y="163.8" width="196" height="4.4" fill="#7f8183"/>
<polygon points="405,166 426,160.2 421,166 426,171.8" fill="#7f8183"/>
<polygon points="638.3,166 617.3,160.2 622.3,166 617.3,171.8" fill="#7f8183"/>
<text x="406.9" y="186" font-size="13.5" fill="#666" text-anchor="start" font-weight="normal" font-style="normal" font-family='"Liberation Sans", sans-serif' textLength="76.9" lengthAdjust="spacingAndGlyphs" >compressive</text>
<text x="600.5" y="186" font-size="13.5" fill="#666" text-anchor="start" font-weight="normal" font-style="normal" font-family='"Liberation Sans", sans-serif' textLength="39.7" lengthAdjust="spacingAndGlyphs" >tensile</text>
<text x="353.5" y="210.4" font-size="28" fill="#000" text-anchor="start" font-weight="bold" font-style="normal" font-family='"Liberation Sans", sans-serif' >e</text>
<rect x="393" y="232" width="282.6" height="7.4" fill="#e6d3ea"/>
<rect x="393" y="244" width="282.6" height="12.6" fill="#c9d3ec"/>
<rect x="393" y="361" width="282.6" height="6.6" fill="#b4b4b4"/>
<line x1="406.00" y1="361.40" x2="406.00" y2="374.40" stroke="#333" stroke-width="1.3" />
<line x1="403.00" y1="361.40" x2="409.00" y2="361.40" stroke="#333" stroke-width="1.3" />
<line x1="403.00" y1="374.40" x2="409.00" y2="374.40" stroke="#333" stroke-width="1.3" />
<ellipse cx="406.0" cy="368" rx="4.1" ry="4.2" fill="none" stroke="#333" stroke-width="1.7"/>
<line x1="438.05" y1="363.20" x2="438.05" y2="368.40" stroke="#333" stroke-width="1.3" />
<line x1="435.05" y1="363.20" x2="441.05" y2="363.20" stroke="#333" stroke-width="1.3" />
<line x1="435.05" y1="368.40" x2="441.05" y2="368.40" stroke="#333" stroke-width="1.3" />
<ellipse cx="438.05" cy="365.8" rx="4.1" ry="4.2" fill="none" stroke="#333" stroke-width="1.7"/>
<line x1="470.10" y1="364.80" x2="470.10" y2="366.80" stroke="#333" stroke-width="1.3" />
<line x1="467.10" y1="364.80" x2="473.10" y2="364.80" stroke="#333" stroke-width="1.3" />
<line x1="467.10" y1="366.80" x2="473.10" y2="366.80" stroke="#333" stroke-width="1.3" />
<ellipse cx="470.1" cy="365.8" rx="4.1" ry="4.2" fill="none" stroke="#333" stroke-width="1.7"/>
<line x1="502.15" y1="357.80" x2="502.15" y2="361.40" stroke="#333" stroke-width="1.3" />
<line x1="499.15" y1="357.80" x2="505.15" y2="357.80" stroke="#333" stroke-width="1.3" />
<line x1="499.15" y1="361.40" x2="505.15" y2="361.40" stroke="#333" stroke-width="1.3" />
<ellipse cx="502.15" cy="359.6" rx="4.1" ry="4.2" fill="none" stroke="#333" stroke-width="1.7"/>
<line x1="534.20" y1="351.60" x2="534.20" y2="363.60" stroke="#333" stroke-width="1.3" />
<line x1="531.20" y1="351.60" x2="537.20" y2="351.60" stroke="#333" stroke-width="1.3" />
<line x1="531.20" y1="363.60" x2="537.20" y2="363.60" stroke="#333" stroke-width="1.3" />
<ellipse cx="534.2" cy="358" rx="4.1" ry="4.2" fill="none" stroke="#333" stroke-width="1.7"/>
<line x1="566.25" y1="364.00" x2="566.25" y2="366.00" stroke="#333" stroke-width="1.3" />
<line x1="563.25" y1="364.00" x2="569.25" y2="364.00" stroke="#333" stroke-width="1.3" />
<line x1="563.25" y1="366.00" x2="569.25" y2="366.00" stroke="#333" stroke-width="1.3" />
<ellipse cx="566.25" cy="365" rx="4.1" ry="4.2" fill="none" stroke="#333" stroke-width="1.7"/>
<line x1="598.30" y1="361.40" x2="598.30" y2="376.40" stroke="#333" stroke-width="1.3" />
<line x1="595.30" y1="361.40" x2="601.30" y2="361.40" stroke="#333" stroke-width="1.3" />
<line x1="595.30" y1="376.40" x2="601.30" y2="376.40" stroke="#333" stroke-width="1.3" />
<ellipse cx="598.3" cy="368.6" rx="4.1" ry="4.2" fill="none" stroke="#333" stroke-width="1.7"/>
<line x1="630.35" y1="359.20" x2="630.35" y2="364.00" stroke="#333" stroke-width="1.3" />
<line x1="627.35" y1="359.20" x2="633.35" y2="359.20" stroke="#333" stroke-width="1.3" />
<line x1="627.35" y1="364.00" x2="633.35" y2="364.00" stroke="#333" stroke-width="1.3" />
<ellipse cx="630.3499999999999" cy="361.6" rx="4.1" ry="4.2" fill="none" stroke="#333" stroke-width="1.7"/>
<line x1="662.40" y1="359.60" x2="662.40" y2="369.00" stroke="#333" stroke-width="1.3" />
<line x1="659.40" y1="359.60" x2="665.40" y2="359.60" stroke="#333" stroke-width="1.3" />
<line x1="659.40" y1="369.00" x2="665.40" y2="369.00" stroke="#333" stroke-width="1.3" />
<ellipse cx="662.4" cy="364.4" rx="4.1" ry="4.2" fill="none" stroke="#333" stroke-width="1.7"/>
<line x1="406.00" y1="229.40" x2="406.00" y2="244.00" stroke="#a542b8" stroke-width="1.3" />
<line x1="403.00" y1="229.40" x2="409.00" y2="229.40" stroke="#a542b8" stroke-width="1.3" />
<line x1="403.00" y1="244.00" x2="409.00" y2="244.00" stroke="#a542b8" stroke-width="1.3" />
<rect x="402.0" y="233" width="8" height="8" fill="none" stroke="#a542b8" stroke-width="1.7"/>
<line x1="438.05" y1="225.00" x2="438.05" y2="236.40" stroke="#a542b8" stroke-width="1.3" />
<line x1="435.05" y1="225.00" x2="441.05" y2="225.00" stroke="#a542b8" stroke-width="1.3" />
<line x1="435.05" y1="236.40" x2="441.05" y2="236.40" stroke="#a542b8" stroke-width="1.3" />
<rect x="434.05" y="227" width="8" height="8" fill="none" stroke="#a542b8" stroke-width="1.7"/>
<line x1="470.10" y1="217.40" x2="470.10" y2="245.00" stroke="#a542b8" stroke-width="1.3" />
<line x1="467.10" y1="217.40" x2="473.10" y2="217.40" stroke="#a542b8" stroke-width="1.3" />
<line x1="467.10" y1="245.00" x2="473.10" y2="245.00" stroke="#a542b8" stroke-width="1.3" />
<rect x="466.1" y="227.6" width="8" height="8" fill="none" stroke="#a542b8" stroke-width="1.7"/>
<line x1="502.15" y1="223.60" x2="502.15" y2="245.60" stroke="#a542b8" stroke-width="1.3" />
<line x1="499.15" y1="223.60" x2="505.15" y2="223.60" stroke="#a542b8" stroke-width="1.3" />
<line x1="499.15" y1="245.60" x2="505.15" y2="245.60" stroke="#a542b8" stroke-width="1.3" />
<rect x="498.15" y="231" width="8" height="8" fill="none" stroke="#a542b8" stroke-width="1.7"/>
<line x1="534.20" y1="224.60" x2="534.20" y2="238.00" stroke="#a542b8" stroke-width="1.3" />
<line x1="531.20" y1="224.60" x2="537.20" y2="224.60" stroke="#a542b8" stroke-width="1.3" />
<line x1="531.20" y1="238.00" x2="537.20" y2="238.00" stroke="#a542b8" stroke-width="1.3" />
<rect x="530.2" y="227.6" width="8" height="8" fill="none" stroke="#a542b8" stroke-width="1.7"/>
<line x1="566.25" y1="237.40" x2="566.25" y2="246.00" stroke="#a542b8" stroke-width="1.3" />
<line x1="563.25" y1="237.40" x2="569.25" y2="237.40" stroke="#a542b8" stroke-width="1.3" />
<line x1="563.25" y1="246.00" x2="569.25" y2="246.00" stroke="#a542b8" stroke-width="1.3" />
<rect x="562.25" y="237.6" width="8" height="8" fill="none" stroke="#a542b8" stroke-width="1.7"/>
<line x1="598.30" y1="233.00" x2="598.30" y2="250.00" stroke="#a542b8" stroke-width="1.3" />
<line x1="595.30" y1="233.00" x2="601.30" y2="233.00" stroke="#a542b8" stroke-width="1.3" />
<line x1="595.30" y1="250.00" x2="601.30" y2="250.00" stroke="#a542b8" stroke-width="1.3" />
<rect x="594.3" y="238" width="8" height="8" fill="none" stroke="#a542b8" stroke-width="1.7"/>
<line x1="630.35" y1="225.00" x2="630.35" y2="248.00" stroke="#a542b8" stroke-width="1.3" />
<line x1="627.35" y1="225.00" x2="633.35" y2="225.00" stroke="#a542b8" stroke-width="1.3" />
<line x1="627.35" y1="248.00" x2="633.35" y2="248.00" stroke="#a542b8" stroke-width="1.3" />
<rect x="626.3499999999999" y="232.4" width="8" height="8" fill="none" stroke="#a542b8" stroke-width="1.7"/>
<line x1="662.40" y1="218.60" x2="662.40" y2="253.00" stroke="#a542b8" stroke-width="1.3" />
<line x1="659.40" y1="218.60" x2="665.40" y2="218.60" stroke="#a542b8" stroke-width="1.3" />
<line x1="659.40" y1="253.00" x2="665.40" y2="253.00" stroke="#a542b8" stroke-width="1.3" />
<rect x="658.4" y="232" width="8" height="8" fill="none" stroke="#a542b8" stroke-width="1.7"/>
<line x1="406.00" y1="249.00" x2="406.00" y2="260.00" stroke="#3b5cc0" stroke-width="1.3" />
<line x1="403.00" y1="249.00" x2="409.00" y2="249.00" stroke="#3b5cc0" stroke-width="1.3" />
<line x1="403.00" y1="260.00" x2="409.00" y2="260.00" stroke="#3b5cc0" stroke-width="1.3" />
<ellipse cx="406.0" cy="254.6" rx="4.1" ry="4.2" fill="none" stroke="#3b5cc0" stroke-width="1.7"/>
<line x1="438.05" y1="237.00" x2="438.05" y2="248.00" stroke="#3b5cc0" stroke-width="1.3" />
<line x1="435.05" y1="237.00" x2="441.05" y2="237.00" stroke="#3b5cc0" stroke-width="1.3" />
<line x1="435.05" y1="248.00" x2="441.05" y2="248.00" stroke="#3b5cc0" stroke-width="1.3" />
<ellipse cx="438.05" cy="242.6" rx="4.1" ry="4.2" fill="none" stroke="#3b5cc0" stroke-width="1.7"/>
<line x1="470.10" y1="243.60" x2="470.10" y2="258.40" stroke="#3b5cc0" stroke-width="1.3" />
<line x1="467.10" y1="243.60" x2="473.10" y2="243.60" stroke="#3b5cc0" stroke-width="1.3" />
<line x1="467.10" y1="258.40" x2="473.10" y2="258.40" stroke="#3b5cc0" stroke-width="1.3" />
<ellipse cx="470.1" cy="251" rx="4.1" ry="4.2" fill="none" stroke="#3b5cc0" stroke-width="1.7"/>
<line x1="502.15" y1="240.00" x2="502.15" y2="265.60" stroke="#3b5cc0" stroke-width="1.3" />
<line x1="499.15" y1="240.00" x2="505.15" y2="240.00" stroke="#3b5cc0" stroke-width="1.3" />
<line x1="499.15" y1="265.60" x2="505.15" y2="265.60" stroke="#3b5cc0" stroke-width="1.3" />
<ellipse cx="502.15" cy="252.6" rx="4.1" ry="4.2" fill="none" stroke="#3b5cc0" stroke-width="1.7"/>
<line x1="534.20" y1="245.00" x2="534.20" y2="267.40" stroke="#3b5cc0" stroke-width="1.3" />
<line x1="531.20" y1="245.00" x2="537.20" y2="245.00" stroke="#3b5cc0" stroke-width="1.3" />
<line x1="531.20" y1="267.40" x2="537.20" y2="267.40" stroke="#3b5cc0" stroke-width="1.3" />
<ellipse cx="534.2" cy="256" rx="4.1" ry="4.2" fill="none" stroke="#3b5cc0" stroke-width="1.7"/>
<line x1="566.25" y1="254.40" x2="566.25" y2="269.00" stroke="#3b5cc0" stroke-width="1.3" />
<line x1="563.25" y1="254.40" x2="569.25" y2="254.40" stroke="#3b5cc0" stroke-width="1.3" />
<line x1="563.25" y1="269.00" x2="569.25" y2="269.00" stroke="#3b5cc0" stroke-width="1.3" />
<ellipse cx="566.25" cy="261.4" rx="4.1" ry="4.2" fill="none" stroke="#3b5cc0" stroke-width="1.7"/>
<line x1="598.30" y1="230.60" x2="598.30" y2="252.60" stroke="#3b5cc0" stroke-width="1.3" />
<line x1="595.30" y1="230.60" x2="601.30" y2="230.60" stroke="#3b5cc0" stroke-width="1.3" />
<line x1="595.30" y1="252.60" x2="601.30" y2="252.60" stroke="#3b5cc0" stroke-width="1.3" />
<ellipse cx="598.3" cy="241.6" rx="4.1" ry="4.2" fill="none" stroke="#3b5cc0" stroke-width="1.7"/>
<line x1="630.35" y1="238.00" x2="630.35" y2="266.40" stroke="#3b5cc0" stroke-width="1.3" />
<line x1="627.35" y1="238.00" x2="633.35" y2="238.00" stroke="#3b5cc0" stroke-width="1.3" />
<line x1="627.35" y1="266.40" x2="633.35" y2="266.40" stroke="#3b5cc0" stroke-width="1.3" />
<ellipse cx="630.3499999999999" cy="250" rx="4.1" ry="4.2" fill="none" stroke="#3b5cc0" stroke-width="1.7"/>
<line x1="662.40" y1="236.00" x2="662.40" y2="253.20" stroke="#3b5cc0" stroke-width="1.3" />
<line x1="659.40" y1="236.00" x2="665.40" y2="236.00" stroke="#3b5cc0" stroke-width="1.3" />
<line x1="659.40" y1="253.20" x2="665.40" y2="253.20" stroke="#3b5cc0" stroke-width="1.3" />
<ellipse cx="662.4" cy="242.6" rx="4.1" ry="4.2" fill="none" stroke="#3b5cc0" stroke-width="1.7"/>
<polyline points="393,209.6 675.6,209.6 675.6,384 393,384 393,209.6" fill="none" stroke="#777" stroke-width="1.2"/>
<line x1="406.00" y1="384.00" x2="406.00" y2="386.60" stroke="#777" stroke-width="1" />
<text transform="translate(406.0,395.2) scale(1.08,1)" font-size="8.6" fill="#555" text-anchor="middle" font-weight="normal" font-style="normal" font-family='"Liberation Sans", sans-serif'>5.0</text>
<line x1="438.05" y1="384.00" x2="438.05" y2="386.60" stroke="#777" stroke-width="1" />
<line x1="470.10" y1="384.00" x2="470.10" y2="386.60" stroke="#777" stroke-width="1" />
<text transform="translate(470.1,395.2) scale(1.08,1)" font-size="8.6" fill="#555" text-anchor="middle" font-weight="normal" font-style="normal" font-family='"Liberation Sans", sans-serif'>6.0</text>
<line x1="502.15" y1="384.00" x2="502.15" y2="386.60" stroke="#777" stroke-width="1" />
<line x1="534.20" y1="384.00" x2="534.20" y2="386.60" stroke="#777" stroke-width="1" />
<text transform="translate(534.2,395.2) scale(1.08,1)" font-size="8.6" fill="#555" text-anchor="middle" font-weight="normal" font-style="normal" font-family='"Liberation Sans", sans-serif'>7.0</text>
<line x1="566.25" y1="384.00" x2="566.25" y2="386.60" stroke="#777" stroke-width="1" />
<line x1="598.30" y1="384.00" x2="598.30" y2="386.60" stroke="#777" stroke-width="1" />
<text transform="translate(598.3,395.2) scale(1.08,1)" font-size="8.6" fill="#555" text-anchor="middle" font-weight="normal" font-style="normal" font-family='"Liberation Sans", sans-serif'>8.0</text>
<line x1="630.35" y1="384.00" x2="630.35" y2="386.60" stroke="#777" stroke-width="1" />
<line x1="662.40" y1="384.00" x2="662.40" y2="386.60" stroke="#777" stroke-width="1" />
<text transform="translate(662.4,395.2) scale(1.08,1)" font-size="8.6" fill="#555" text-anchor="middle" font-weight="normal" font-style="normal" font-family='"Liberation Sans", sans-serif'>9.0</text>
<line x1="393.00" y1="378.00" x2="390.40" y2="378.00" stroke="#777" stroke-width="1" />
<text transform="translate(386.4,381.05) scale(1.12,1)" font-size="8.6" fill="#555" text-anchor="end" font-weight="normal" font-style="normal" font-family='"Liberation Sans", sans-serif'>0</text>
<line x1="393.00" y1="355.00" x2="390.40" y2="355.00" stroke="#777" stroke-width="1" />
<line x1="393.00" y1="332.00" x2="390.40" y2="332.00" stroke="#777" stroke-width="1" />
<text transform="translate(386.4,335.05) scale(1.12,1)" font-size="8.6" fill="#555" text-anchor="end" font-weight="normal" font-style="normal" font-family='"Liberation Sans", sans-serif'>0.05</text>
<line x1="393.00" y1="309.00" x2="390.40" y2="309.00" stroke="#777" stroke-width="1" />
<line x1="393.00" y1="286.00" x2="390.40" y2="286.00" stroke="#777" stroke-width="1" />
<text transform="translate(386.4,289.05) scale(1.12,1)" font-size="8.6" fill="#555" text-anchor="end" font-weight="normal" font-style="normal" font-family='"Liberation Sans", sans-serif'>0.10</text>
<line x1="393.00" y1="263.00" x2="390.40" y2="263.00" stroke="#777" stroke-width="1" />
<line x1="393.00" y1="240.00" x2="390.40" y2="240.00" stroke="#777" stroke-width="1" />
<text transform="translate(386.4,243.04999999999998) scale(1.12,1)" font-size="8.6" fill="#555" text-anchor="end" font-weight="normal" font-style="normal" font-family='"Liberation Sans", sans-serif'>0.15</text>
<line x1="393.00" y1="217.00" x2="390.40" y2="217.00" stroke="#777" stroke-width="1" />
<rect x="403.6" y="282.4" width="51" height="41.6" rx="2" fill="#fff" fill-opacity="0.85" stroke="#dcdcdc" stroke-width="0.8"/>
<line x1="412.60" y1="286.40" x2="412.60" y2="293.60" stroke="#333" stroke-width="1.3" />
<ellipse cx="412.6" cy="290" rx="3.6" ry="3.6" fill="none" stroke="#333" stroke-width="1.4"/>
<text x="425.6" y="294.2" font-size="11.6" fill="#333" text-anchor="start" font-weight="normal" font-style="normal" font-family='"Liberation Sans", sans-serif' >NGO</text>
<line x1="412.60" y1="300.00" x2="412.60" y2="307.20" stroke="#3b5cc0" stroke-width="1.3" />
<ellipse cx="412.6" cy="303.6" rx="3.6" ry="3.6" fill="none" stroke="#3b5cc0" stroke-width="1.4"/>
<text x="425.6" y="307.8" font-size="11.6" fill="#333" text-anchor="start" font-weight="normal" font-style="normal" font-family='"Liberation Sans", sans-serif' >STO</text>
<line x1="412.60" y1="313.40" x2="412.60" y2="320.60" stroke="#a542b8" stroke-width="1.3" />
<rect x="409" y="313.6" width="7.2" height="6.8" fill="none" stroke="#a542b8" stroke-width="1.4"/>
<text x="425.6" y="321.2" font-size="11.6" fill="#333" text-anchor="start" font-weight="normal" font-style="normal" font-family='"Liberation Sans", sans-serif' >KTO</text>
<text x="546" y="222" font-size="11.6" fill="#a542b8" text-anchor="start" font-weight="normal" font-style="normal" font-family='"Liberation Sans", sans-serif' textLength="51" lengthAdjust="spacingAndGlyphs" >0.154(4)</text>
<text x="546" y="283" font-size="11.6" fill="#3b5cc0" text-anchor="start" font-weight="normal" font-style="normal" font-family='"Liberation Sans", sans-serif' textLength="51" lengthAdjust="spacingAndGlyphs" >0.139(7)</text>
<text x="546" y="350.4" font-size="11.6" fill="#333" text-anchor="start" font-weight="normal" font-style="normal" font-family='"Liberation Sans", sans-serif' textLength="51" lengthAdjust="spacingAndGlyphs" >0.015(4)</text>
<text transform="translate(361,315) rotate(-90)" font-size="14" fill="#333" font-family='"Liberation Sans", sans-serif'><tspan font-style="italic">ξ</tspan><tspan font-size="10" font-style="italic" dy="3">FMR</tspan></text>
<text transform="translate(506,409) scale(1.16,1)" font-size="12.6" fill="#333" text-anchor="start" font-weight="normal" font-style="normal" font-family='"Liberation Sans", sans-serif'><tspan font-style="italic">f</tspan> (GHz)</text>
<text x="357" y="429.8" font-size="28" fill="#000" text-anchor="start" font-weight="bold" font-style="normal" font-family='"Liberation Sans", sans-serif' >f</text>
<rect x="385.6" y="432.6" width="296.0" height="158.79999999999995" fill="none" stroke="#333" stroke-width="1.3"/>
<line x1="541.80" y1="432.60" x2="541.80" y2="591.40" stroke="#444" stroke-width="1.3" />
<line x1="385.65" y1="591.40" x2="385.65" y2="588.90" stroke="#333" stroke-width="1" />
<line x1="385.65" y1="432.60" x2="385.65" y2="435.10" stroke="#333" stroke-width="1" />
<line x1="403.00" y1="591.40" x2="403.00" y2="587.40" stroke="#333" stroke-width="1" />
<line x1="403.00" y1="432.60" x2="403.00" y2="436.60" stroke="#333" stroke-width="1" />
<text x="402.99999999999994" y="607" font-size="14" fill="#222" text-anchor="middle" font-weight="normal" font-style="normal" font-family='"Liberation Serif", serif' stroke="#222" stroke-width="0.3">-2.0</text>
<line x1="420.35" y1="591.40" x2="420.35" y2="588.90" stroke="#333" stroke-width="1" />
<line x1="420.35" y1="432.60" x2="420.35" y2="435.10" stroke="#333" stroke-width="1" />
<line x1="437.70" y1="591.40" x2="437.70" y2="587.40" stroke="#333" stroke-width="1" />
<line x1="437.70" y1="432.60" x2="437.70" y2="436.60" stroke="#333" stroke-width="1" />
<text x="437.69999999999993" y="607" font-size="14" fill="#222" text-anchor="middle" font-weight="normal" font-style="normal" font-family='"Liberation Serif", serif' stroke="#222" stroke-width="0.3">-1.5</text>
<line x1="455.05" y1="591.40" x2="455.05" y2="588.90" stroke="#333" stroke-width="1" />
<line x1="455.05" y1="432.60" x2="455.05" y2="435.10" stroke="#333" stroke-width="1" />
<line x1="472.40" y1="591.40" x2="472.40" y2="587.40" stroke="#333" stroke-width="1" />
<line x1="472.40" y1="432.60" x2="472.40" y2="436.60" stroke="#333" stroke-width="1" />
<text x="472.4" y="607" font-size="14" fill="#222" text-anchor="middle" font-weight="normal" font-style="normal" font-family='"Liberation Serif", serif' stroke="#222" stroke-width="0.3">-1.0</text>
<line x1="489.75" y1="591.40" x2="489.75" y2="588.90" stroke="#333" stroke-width="1" />
<line x1="489.75" y1="432.60" x2="489.75" y2="435.10" stroke="#333" stroke-width="1" />
<line x1="507.10" y1="591.40" x2="507.10" y2="587.40" stroke="#333" stroke-width="1" />
<line x1="507.10" y1="432.60" x2="507.10" y2="436.60" stroke="#333" stroke-width="1" />
<text x="507.09999999999997" y="607" font-size="14" fill="#222" text-anchor="middle" font-weight="normal" font-style="normal" font-family='"Liberation Serif", serif' stroke="#222" stroke-width="0.3">-0.5</text>
<line x1="524.45" y1="591.40" x2="524.45" y2="588.90" stroke="#333" stroke-width="1" />
<line x1="524.45" y1="432.60" x2="524.45" y2="435.10" stroke="#333" stroke-width="1" />
<line x1="541.80" y1="591.40" x2="541.80" y2="587.40" stroke="#333" stroke-width="1" />
<line x1="541.80" y1="432.60" x2="541.80" y2="436.60" stroke="#333" stroke-width="1" />
<text x="541.8" y="607" font-size="14" fill="#222" text-anchor="middle" font-weight="normal" font-style="normal" font-family='"Liberation Serif", serif' stroke="#222" stroke-width="0.3">0.0</text>
<line x1="559.15" y1="591.40" x2="559.15" y2="588.90" stroke="#333" stroke-width="1" />
<line x1="559.15" y1="432.60" x2="559.15" y2="435.10" stroke="#333" stroke-width="1" />
<line x1="576.50" y1="591.40" x2="576.50" y2="587.40" stroke="#333" stroke-width="1" />
<line x1="576.50" y1="432.60" x2="576.50" y2="436.60" stroke="#333" stroke-width="1" />
<text x="576.5" y="607" font-size="14" fill="#222" text-anchor="middle" font-weight="normal" font-style="normal" font-family='"Liberation Serif", serif' stroke="#222" stroke-width="0.3">0.5</text>
<line x1="593.85" y1="591.40" x2="593.85" y2="588.90" stroke="#333" stroke-width="1" />
<line x1="593.85" y1="432.60" x2="593.85" y2="435.10" stroke="#333" stroke-width="1" />
<line x1="611.20" y1="591.40" x2="611.20" y2="587.40" stroke="#333" stroke-width="1" />
<line x1="611.20" y1="432.60" x2="611.20" y2="436.60" stroke="#333" stroke-width="1" />
<text x="611.1999999999999" y="607" font-size="14" fill="#222" text-anchor="middle" font-weight="normal" font-style="normal" font-family='"Liberation Serif", serif' stroke="#222" stroke-width="0.3">1.0</text>
<line x1="628.55" y1="591.40" x2="628.55" y2="588.90" stroke="#333" stroke-width="1" />
<line x1="628.55" y1="432.60" x2="628.55" y2="435.10" stroke="#333" stroke-width="1" />
<line x1="645.90" y1="591.40" x2="645.90" y2="587.40" stroke="#333" stroke-width="1" />
<line x1="645.90" y1="432.60" x2="645.90" y2="436.60" stroke="#333" stroke-width="1" />
<text x="645.9" y="607" font-size="14" fill="#222" text-anchor="middle" font-weight="normal" font-style="normal" font-family='"Liberation Serif", serif' stroke="#222" stroke-width="0.3">1.5</text>
<line x1="663.25" y1="591.40" x2="663.25" y2="588.90" stroke="#333" stroke-width="1" />
<line x1="663.25" y1="432.60" x2="663.25" y2="435.10" stroke="#333" stroke-width="1" />
<line x1="680.60" y1="591.40" x2="680.60" y2="587.40" stroke="#333" stroke-width="1" />
<line x1="680.60" y1="432.60" x2="680.60" y2="436.60" stroke="#333" stroke-width="1" />
<text x="680.5999999999999" y="607" font-size="14" fill="#222" text-anchor="middle" font-weight="normal" font-style="normal" font-family='"Liberation Serif", serif' stroke="#222" stroke-width="0.3">2.</text>
<line x1="385.60" y1="572.00" x2="389.60" y2="572.00" stroke="#333" stroke-width="1" />
<text x="382" y="576.8" font-size="14" fill="#222" text-anchor="end" font-weight="normal" font-style="normal" font-family='"Liberation Serif", serif' stroke="#222" stroke-width="0.3">0.0</text>
<line x1="385.60" y1="552.15" x2="388.10" y2="552.15" stroke="#333" stroke-width="1" />
<line x1="385.60" y1="532.30" x2="389.60" y2="532.30" stroke="#333" stroke-width="1" />
<text x="382" y="537.0999999999999" font-size="14" fill="#222" text-anchor="end" font-weight="normal" font-style="normal" font-family='"Liberation Serif", serif' stroke="#222" stroke-width="0.3">0.4</text>
<line x1="385.60" y1="512.45" x2="388.10" y2="512.45" stroke="#333" stroke-width="1" />
<line x1="385.60" y1="492.60" x2="389.60" y2="492.60" stroke="#333" stroke-width="1" />
<text x="382" y="497.40000000000003" font-size="14" fill="#222" text-anchor="end" font-weight="normal" font-style="normal" font-family='"Liberation Serif", serif' stroke="#222" stroke-width="0.3">0.8</text>
<line x1="385.60" y1="472.75" x2="388.10" y2="472.75" stroke="#333" stroke-width="1" />
<line x1="385.60" y1="452.90" x2="389.60" y2="452.90" stroke="#333" stroke-width="1" />
<text x="382" y="457.7" font-size="14" fill="#222" text-anchor="end" font-weight="normal" font-style="normal" font-family='"Liberation Serif", serif' stroke="#222" stroke-width="0.3">1.2</text>
<polygon points="409,559 416,566 409,573 402,566" fill="none" stroke="#2f4fa8" stroke-width="1.5"/>
<line x1="403.00" y1="566.00" x2="415.00" y2="566.00" stroke="#2f4fa8" stroke-width="0.9" />
<line x1="409.00" y1="560.00" x2="409.00" y2="572.00" stroke="#2f4fa8" stroke-width="0.9" />
<polygon points="568.4,563 575.4,570 568.4,577 561.4,570" fill="none" stroke="#2f4fa8" stroke-width="1.5"/>
<line x1="562.40" y1="570.00" x2="574.40" y2="570.00" stroke="#2f4fa8" stroke-width="0.9" />
<line x1="568.40" y1="564.00" x2="568.40" y2="576.00" stroke="#2f4fa8" stroke-width="0.9" />
<polygon points="603.6,560.2 610.6,567.2 603.6,574.2 596.6,567.2" fill="none" stroke="#2f4fa8" stroke-width="1.5"/>
<line x1="597.60" y1="567.20" x2="609.60" y2="567.20" stroke="#2f4fa8" stroke-width="0.9" />
<line x1="603.60" y1="561.20" x2="603.60" y2="573.20" stroke="#2f4fa8" stroke-width="0.9" />
<rect x="427.6" y="563" width="10" height="10" fill="none" stroke="#e2332a" stroke-width="1.8"/>
<line x1="427.60" y1="568.00" x2="437.60" y2="568.00" stroke="#e2332a" stroke-width="0.9" />
<line x1="432.60" y1="563.00" x2="432.60" y2="573.00" stroke="#e2332a" stroke-width="0.9" />
<rect x="492.1" y="515.2" width="11.0" height="17.59999999999991" rx="1" fill="#e2332a"/>
<rect x="493.90000000000003" y="517.2" width="3.1" height="2.199999999999932" fill="#fff" opacity="0.92"/>
<rect x="498.20000000000005" y="517.2" width="3.1" height="2.199999999999932" fill="#fff" opacity="0.92"/>
<rect x="493.90000000000003" y="522.6" width="3.1" height="1.6000000000000227" fill="#fff" opacity="0.92"/>
<rect x="498.20000000000005" y="522.6" width="3.1" height="1.6000000000000227" fill="#fff" opacity="0.92"/>
<rect x="493.90000000000003" y="525.6" width="3.1" height="1.6000000000000227" fill="#fff" opacity="0.92"/>
<rect x="498.20000000000005" y="525.6" width="3.1" height="1.6000000000000227" fill="#fff" opacity="0.92"/>
<rect x="493.90000000000003" y="528.6" width="3.1" height="2.0" fill="#fff" opacity="0.92"/>
<rect x="498.20000000000005" y="528.6" width="3.1" height="2.0" fill="#fff" opacity="0.92"/>
<rect x="641.3" y="458.3" width="10.700000000000045" height="19.69999999999999" rx="1" fill="#e2332a"/>
<rect x="643.0999999999999" y="460.2" width="2.950000000000023" height="1.8000000000000114" fill="#fff" opacity="0.92"/>
<rect x="647.25" y="460.2" width="2.950000000000023" height="1.8000000000000114" fill="#fff" opacity="0.92"/>
<rect x="643.0999999999999" y="464.6" width="2.950000000000023" height="1.7999999999999545" fill="#fff" opacity="0.92"/>
<rect x="647.25" y="464.6" width="2.950000000000023" height="1.7999999999999545" fill="#fff" opacity="0.92"/>
<rect x="643.0999999999999" y="470.4" width="2.950000000000023" height="1.8000000000000114" fill="#fff" opacity="0.92"/>
<rect x="647.25" y="470.4" width="2.950000000000023" height="1.8000000000000114" fill="#fff" opacity="0.92"/>
<rect x="643.0999999999999" y="473.6" width="2.950000000000023" height="2.0" fill="#fff" opacity="0.92"/>
<rect x="647.25" y="473.6" width="2.950000000000023" height="2.0" fill="#fff" opacity="0.92"/>
<rect x="642.3" y="487" width="8.6" height="9.8" fill="none" stroke="#e2332a" stroke-width="2"/>
<rect x="641.3" y="499.4" width="10.700000000000045" height="16.100000000000023" rx="1" fill="#e2332a"/>
<rect x="643.0999999999999" y="501.4" width="2.950000000000023" height="1.8000000000000114" fill="#fff" opacity="0.92"/>
<rect x="647.25" y="501.4" width="2.950000000000023" height="1.8000000000000114" fill="#fff" opacity="0.92"/>
<rect x="643.0999999999999" y="506" width="2.950000000000023" height="4" fill="#fff" opacity="0.92"/>
<rect x="647.25" y="506" width="2.950000000000023" height="4" fill="#fff" opacity="0.92"/>
<rect x="643.0999999999999" y="511.5" width="2.950000000000023" height="1.8999999999999773" fill="#fff" opacity="0.92"/>
<rect x="647.25" y="511.5" width="2.950000000000023" height="1.8999999999999773" fill="#fff" opacity="0.92"/>
<line x1="643.60" y1="457.50" x2="649.60" y2="457.50" stroke="#e2332a" stroke-width="1.2" />
<line x1="643.60" y1="479.50" x2="649.60" y2="479.50" stroke="#e2332a" stroke-width="1.2" />
<line x1="643.60" y1="485.20" x2="649.60" y2="485.20" stroke="#e2332a" stroke-width="1.2" />
<line x1="643.60" y1="498.00" x2="649.60" y2="498.00" stroke="#e2332a" stroke-width="1.2" />
<line x1="643.60" y1="499.00" x2="649.60" y2="499.00" stroke="#e2332a" stroke-width="1.2" />
<line x1="643.60" y1="517.30" x2="649.60" y2="517.30" stroke="#e2332a" stroke-width="1.2" />
<text x="393" y="545" font-size="15" fill="#2f4fa8" text-anchor="start" font-weight="normal" font-style="normal" font-family='"Liberation Serif", serif' textLength="32" lengthAdjust="spacingAndGlyphs" stroke="#2f4fa8" stroke-width="0.3">NGO</text>
<text x="436" y="550" font-size="15" fill="#e2332a" text-anchor="start" font-weight="normal" font-style="normal" font-family='"Liberation Serif", serif' textLength="36" lengthAdjust="spacingAndGlyphs" stroke="#e2332a" stroke-width="0.3">LSAT</text>
<text x="487" y="503.6" font-size="15" fill="#e2332a" text-anchor="start" font-weight="normal" font-style="normal" font-family='"Liberation Serif", serif' textLength="27.3" lengthAdjust="spacingAndGlyphs" stroke="#e2332a" stroke-width="0.3">STO</text>
<text x="553" y="553.4" font-size="15" fill="#2f4fa8" text-anchor="start" font-weight="normal" font-style="normal" font-family='"Liberation Serif", serif' textLength="28.4" lengthAdjust="spacingAndGlyphs" stroke="#2f4fa8" stroke-width="0.3">DSO</text>
<text x="588.4" y="549.6" font-size="15" fill="#2f4fa8" text-anchor="start" font-weight="normal" font-style="normal" font-family='"Liberation Serif", serif' textLength="28" lengthAdjust="spacingAndGlyphs" stroke="#2f4fa8" stroke-width="0.3">GSO</text>
<text x="631.6" y="449.6" font-size="15" fill="#e2332a" text-anchor="start" font-weight="normal" font-style="normal" font-family='"Liberation Serif", serif' textLength="29.8" lengthAdjust="spacingAndGlyphs" stroke="#e2332a" stroke-width="0.3">KTO</text>
<text x="509" y="623.5" font-size="17" fill="#222" text-anchor="start" font-weight="normal" font-style="normal" font-family='"Liberation Serif", serif' textLength="66.6" lengthAdjust="spacingAndGlyphs" stroke="#222" stroke-width="0.3">Strain (%)</text>
<text transform="translate(355.8,530.5) rotate(-90)" font-size="13.5" fill="#222" text-anchor="start" font-weight="normal" font-style="normal" font-family='"Liberation Serif", serif'><tspan font-style="italic">ξ</tspan><tspan font-size="11.5" dy="5.5">SOT</tspan></text>
</svg></body></html>
